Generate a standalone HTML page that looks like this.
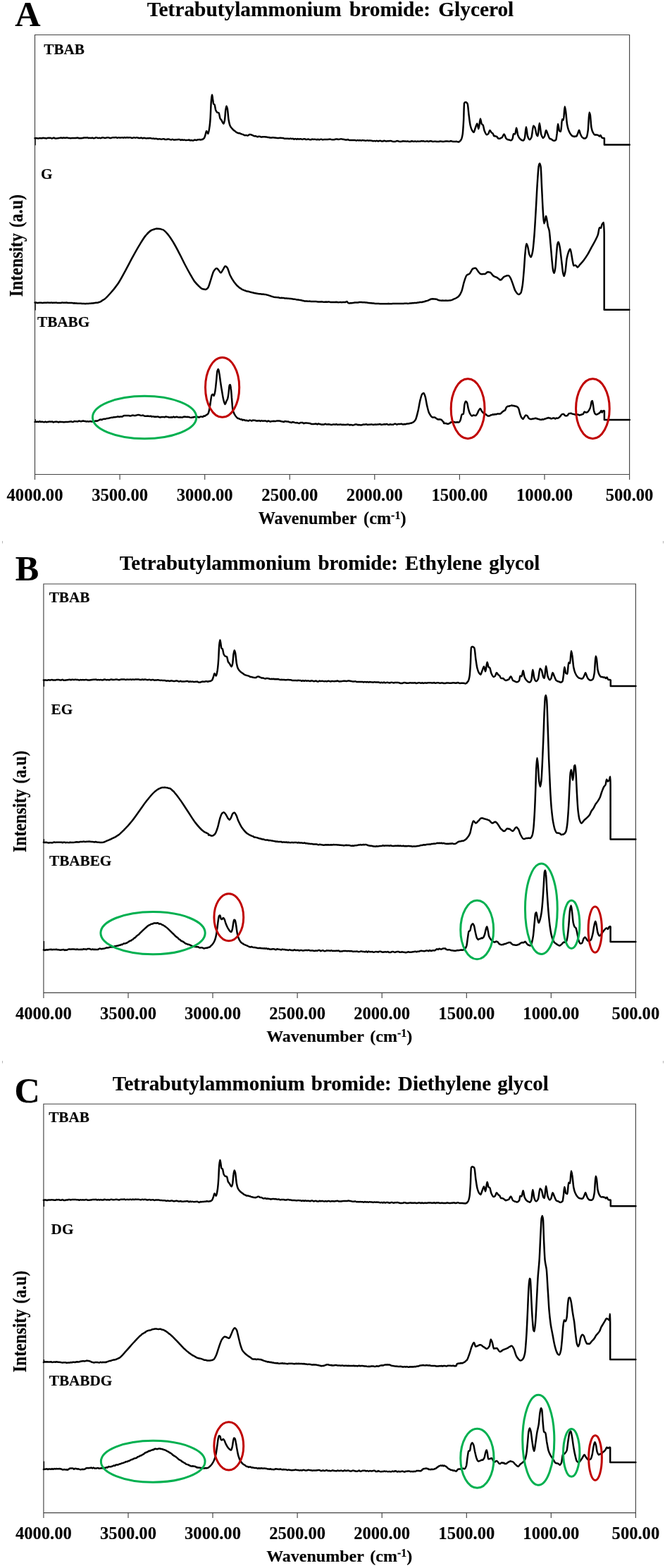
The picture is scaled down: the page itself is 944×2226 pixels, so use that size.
<!DOCTYPE html>
<html><head><meta charset="utf-8"><title>FTIR spectra</title>
<style>
html,body{margin:0;padding:0;background:#fff}
svg{display:block}
text{font-family:"Liberation Serif", serif;font-weight:bold;fill:#000;stroke:#000;stroke-width:0.15px}
.t{font-size:29.2px}
.k{font-size:24.6px}
.l{font-size:21.2px}
.a{font-size:24px}
.p{font-size:50.2px}
</style></head><body>
<svg width="944" height="2226" viewBox="0 0 944 2226">
<rect width="944" height="2226" fill="#fff"/>
<g id="panelA">
<path d="M49.5 681.0 V49.5 H893.6 V681.0" fill="none" stroke="#444" stroke-width="1.15"/>
<path d="M49.5 673.5 H893.6" fill="none" stroke="#444" stroke-width="1.15"/>
<path d="M170.1 673.5 v7.5M290.7 673.5 v7.5M411.3 673.5 v7.5M531.8 673.5 v7.5M652.4 673.5 v7.5M773.0 673.5 v7.5" stroke="#444" stroke-width="1.15" fill="none"/>
<text class="k" x="49.5" y="711.0" text-anchor="middle">4000.00</text>
<text class="k" x="170.1" y="711.0" text-anchor="middle">3500.00</text>
<text class="k" x="290.7" y="711.0" text-anchor="middle">3000.00</text>
<text class="k" x="411.3" y="711.0" text-anchor="middle">2500.00</text>
<text class="k" x="531.8" y="711.0" text-anchor="middle">2000.00</text>
<text class="k" x="652.4" y="711.0" text-anchor="middle">1500.00</text>
<text class="k" x="773.0" y="711.0" text-anchor="middle">1000.00</text>
<text class="k" x="893.6" y="711.0" text-anchor="middle">500.00</text>
<text class="t" x="469.0" y="22.9" text-anchor="middle" style="font-size:29.35px;word-spacing:3.8px">Tetrabutylammonium bromide: Glycerol</text>
<text class="p" x="21.2" y="37.3">A</text>
<text class="l" x="62.3" y="77">TBAB</text>
<text class="l" x="58" y="253.5">G</text>
<text class="l" x="53" y="463.7">TBABG</text>
<text class="a" transform="translate(31.6 348.6) rotate(-90) scale(0.9945 1.1)" text-anchor="middle" style="word-spacing:2px">Intensity (a.u)</text>
<text class="a" x="471.6" y="744.1" text-anchor="middle" style="font-size:24.2px;word-spacing:4px">Wavenumber (cm<tspan dy="-7" font-size="16">-1</tspan><tspan dy="7">)</tspan></text>
<path d="M50.05 206.3 V196.3" stroke="#000" stroke-width="1.3" fill="none"/><path d="M49.5 196.3 C50.0 196.2 50.5 196.1 51.0 196.1 C51.6 196.1 52.1 196.2 52.7 196.2 C53.3 196.3 53.8 196.6 54.4 196.6 C55.0 196.6 55.5 196.1 56.1 196.1 C56.7 196.1 57.2 196.1 57.8 196.2 C58.4 196.2 58.9 196.2 59.5 196.2 C60.1 196.2 60.6 195.8 61.2 195.8 C61.8 195.8 62.3 196.1 62.9 196.1 C63.5 196.2 64.0 196.2 64.6 196.2 C65.2 196.3 65.7 196.4 66.3 196.4 C66.9 196.4 67.4 195.7 68.0 195.7 C68.6 195.7 69.1 195.9 69.7 195.9 C70.3 195.9 70.8 195.7 71.4 195.7 C72.0 195.7 72.5 196.4 73.1 196.4 C73.7 196.4 74.2 196.3 74.8 196.2 C75.4 196.2 75.9 195.6 76.5 195.6 C77.1 195.6 77.6 196.5 78.2 196.5 C78.8 196.5 79.3 196.5 79.9 196.5 C80.5 196.5 81.0 196.2 81.6 196.2 C82.2 196.1 82.7 196.2 83.3 196.1 C83.9 196.1 84.4 195.7 85.0 195.7 C85.6 195.6 86.1 195.5 86.7 195.5 C87.3 195.5 87.8 196.0 88.4 196.0 C89.0 196.0 89.5 195.5 90.1 195.5 C90.7 195.5 91.2 195.6 91.8 195.7 C92.4 195.7 92.9 195.7 93.5 195.7 C94.1 195.7 94.6 195.5 95.2 195.5 C95.8 195.5 96.3 195.9 96.9 195.9 C97.5 195.9 98.0 195.9 98.6 195.9 C99.2 195.9 99.7 196.3 100.3 196.3 C100.9 196.3 101.4 195.9 102.0 195.9 C102.6 195.9 103.1 196.0 103.7 196.0 C104.3 196.0 104.8 195.9 105.4 195.9 C106.0 195.9 106.5 196.0 107.1 196.0 C107.7 196.0 108.2 195.9 108.8 195.8 C109.4 195.8 109.9 195.6 110.5 195.6 C111.1 195.6 111.6 196.3 112.2 196.3 C112.8 196.3 113.3 196.3 113.9 196.3 C114.5 196.3 115.0 196.2 115.6 196.2 C116.2 196.1 116.7 196.1 117.3 196.0 C117.9 196.0 118.4 195.7 119.0 195.6 C119.6 195.6 120.1 195.5 120.7 195.5 C121.3 195.5 121.8 195.6 122.4 195.6 C123.0 195.6 123.5 195.3 124.1 195.3 C124.7 195.3 125.2 196.0 125.8 196.0 C126.4 196.0 126.9 195.7 127.5 195.7 C128.1 195.7 128.6 196.1 129.2 196.1 C129.8 196.1 130.3 195.6 130.9 195.6 C131.5 195.6 132.0 196.2 132.6 196.2 C133.2 196.2 133.7 196.1 134.3 196.1 C134.9 196.0 135.4 195.2 136.0 195.2 C136.6 195.2 137.1 195.3 137.7 195.4 C138.3 195.5 138.8 196.1 139.4 196.1 C140.0 196.1 140.5 195.7 141.1 195.7 C141.7 195.7 142.2 196.2 142.8 196.2 C143.4 196.2 143.9 195.7 144.5 195.6 C145.1 195.4 145.6 195.2 146.2 195.2 C146.8 195.2 147.3 195.7 147.9 195.8 C148.5 195.9 149.0 195.9 149.6 195.9 C150.2 195.9 150.7 195.5 151.3 195.4 C151.9 195.3 152.4 195.2 153.0 195.2 C153.6 195.2 154.1 195.3 154.7 195.4 C155.3 195.6 155.8 196.1 156.4 196.1 C157.0 196.1 157.5 196.0 158.1 195.8 C158.7 195.7 159.2 195.2 159.8 195.2 C160.4 195.2 160.9 195.3 161.5 195.3 C162.1 195.3 162.6 195.2 163.2 195.2 C163.8 195.1 164.3 195.1 164.9 195.1 C165.5 195.1 166.0 195.8 166.6 195.8 C167.2 195.8 167.7 195.2 168.3 195.2 C168.9 195.2 169.4 195.6 170.0 195.6 C170.6 195.6 171.1 195.5 171.7 195.5 C172.3 195.4 172.8 195.2 173.4 195.2 C174.0 195.2 174.5 195.7 175.1 195.7 C175.7 195.7 176.2 195.1 176.8 195.1 C177.4 195.1 177.9 195.6 178.5 195.6 C179.1 195.6 179.6 195.1 180.2 195.1 C180.8 195.1 181.3 195.4 181.9 195.4 C182.5 195.4 183.0 195.2 183.6 195.2 C184.2 195.2 184.7 195.2 185.3 195.2 C185.9 195.2 186.4 195.9 187.0 195.9 C187.6 195.9 188.1 195.8 188.7 195.7 C189.3 195.6 189.8 195.2 190.4 195.2 C191.0 195.2 191.5 195.8 192.1 195.8 C192.7 195.8 193.2 195.2 193.8 195.2 C194.4 195.2 194.9 195.4 195.5 195.5 C196.1 195.6 196.6 196.0 197.2 196.0 C197.8 196.0 198.3 196.0 198.9 195.9 C199.5 195.8 200.0 195.5 200.6 195.5 C201.2 195.5 201.7 196.4 202.3 196.4 C202.9 196.4 203.4 195.8 204.0 195.8 C204.6 195.8 205.1 195.8 205.7 195.9 C206.3 196.0 206.8 196.5 207.4 196.5 C208.0 196.5 208.5 196.2 209.1 196.2 C209.7 196.2 210.2 196.2 210.8 196.2 C211.4 196.2 211.9 196.1 212.5 196.1 C213.1 196.1 213.6 196.1 214.2 196.2 C214.8 196.3 215.3 196.8 215.9 196.8 C216.5 196.8 217.0 196.5 217.6 196.5 C218.2 196.5 218.7 197.0 219.3 197.0 C219.9 197.0 220.4 196.8 221.0 196.8 C221.6 196.8 222.1 196.9 222.7 197.0 C223.3 197.1 223.8 197.6 224.4 197.6 C225.0 197.6 225.5 197.2 226.1 197.2 C226.7 197.2 227.2 197.3 227.8 197.4 C228.4 197.5 228.9 197.8 229.5 197.8 C230.1 197.8 230.6 197.2 231.2 197.2 C231.8 197.2 232.3 197.2 232.9 197.2 C233.5 197.3 234.0 198.1 234.6 198.1 C235.2 198.1 235.7 198.0 236.3 198.0 C236.9 198.0 237.4 197.5 238.0 197.5 C238.6 197.5 239.1 197.5 239.7 197.5 C240.3 197.5 240.8 198.0 241.4 198.1 C242.0 198.3 242.5 198.4 243.1 198.4 C243.7 198.4 244.2 197.7 244.8 197.7 C245.4 197.7 245.9 198.6 246.5 198.6 C247.1 198.6 247.6 198.5 248.2 198.5 C248.8 198.5 249.3 198.4 249.9 198.3 C250.5 198.3 251.0 198.3 251.6 198.2 C252.2 198.2 252.7 198.0 253.3 198.0 C253.9 198.0 254.4 198.0 255.0 198.0 C255.6 198.0 256.1 198.9 256.7 198.9 C257.3 198.9 257.8 198.3 258.4 198.3 C259.0 198.3 259.5 198.8 260.1 198.8 C260.7 198.8 261.2 198.4 261.8 198.4 C262.4 198.4 262.9 199.1 263.5 199.1 C264.1 199.1 264.6 199.0 265.2 198.9 C265.8 198.8 266.3 198.7 266.9 198.7 C267.5 198.6 268.0 198.6 268.6 198.6 C269.1 198.6 269.5 199.4 270.0 199.4 L271.5 199.0 L273.1 199.4 L274.6 199.4 L276.1 198.6 L277.6 198.8 L279.1 199.1 L280.6 198.2 L282.1 198.2 L283.6 198.1 L285.0 198.6 L286.5 197.9 L287.6 197.9 L288.6 197.1 L289.7 196.3 C290.3 195.7 291.0 193.1 291.6 191.2 C292.1 189.7 292.6 186.1 293.1 186.1 C293.9 186.1 294.7 189.9 295.4 189.9 C296.1 189.9 296.7 185.2 297.3 181.0 C297.8 178.3 298.2 174.0 298.6 168.3 C299.0 162.7 299.4 147.3 299.9 142.9 C300.3 138.9 300.6 134.6 301.0 134.6 C301.4 134.6 301.7 138.3 302.0 140.3 C302.4 142.4 302.7 146.8 303.1 147.3 C303.6 148.1 304.1 147.9 304.6 148.6 C305.1 149.4 305.7 154.9 306.2 156.2 C306.9 157.8 307.5 159.0 308.1 159.4 C309.0 160.0 309.8 159.8 310.7 160.4 C311.3 160.9 311.9 167.0 312.6 168.3 C313.2 169.6 313.9 169.9 314.5 170.8 C315.5 172.3 316.4 175.7 317.4 175.7 C317.9 175.7 318.4 173.4 318.9 170.8 C319.4 168.7 319.8 159.8 320.2 156.9 C320.6 153.9 321.1 150.5 321.5 150.5 C321.9 150.5 322.3 152.5 322.8 154.3 C323.4 157.1 324.0 167.4 324.7 170.8 C325.3 174.3 325.9 177.1 326.6 178.5 C327.6 180.8 328.7 181.8 329.8 182.9 L330.7 183.9 L331.7 184.7 L332.6 185.5 L333.6 186.1 L334.8 187.2 L336.1 188.1 L337.4 188.6 L338.6 189.2 L339.9 188.9 L341.2 189.7 L342.5 190.1 L343.7 190.6 L345.0 190.9 L346.3 191.6 L347.5 192.2 L348.8 192.1 L350.1 192.1 L351.4 192.5 L352.6 192.1 L353.9 191.0 L355.2 190.9 L356.4 191.2 L357.7 191.8 L359.0 192.2 L360.3 193.0 L361.5 193.2 L362.8 193.1 L364.1 193.7 L365.6 194.3 L367.1 193.8 L368.6 193.7 L370.2 194.4 L371.7 194.4 L373.1 194.2 L374.6 194.2 L376.0 194.2 L377.5 194.5 L379.0 194.6 L380.4 195.1 L381.9 195.0 L383.2 195.5 L384.6 195.5 L385.9 195.6 L387.3 195.1 L388.6 195.4 L390.0 195.6 C390.7 195.7 391.3 195.7 392.0 195.7 C392.6 195.7 393.1 195.9 393.7 196.0 C394.3 196.0 394.8 196.1 395.4 196.1 C396.0 196.1 396.5 195.7 397.1 195.7 C397.7 195.7 398.2 195.7 398.8 195.7 C399.4 195.7 399.9 196.1 400.5 196.1 C401.1 196.1 401.6 196.1 402.2 196.1 C402.8 196.1 403.3 196.8 403.9 196.8 C404.5 196.8 405.0 196.7 405.6 196.7 C406.2 196.7 406.7 196.7 407.3 196.8 C407.9 196.8 408.4 196.8 409.0 196.8 C409.6 196.8 410.1 197.0 410.7 197.0 C411.3 197.0 411.8 196.6 412.4 196.6 C413.0 196.6 413.5 197.0 414.1 197.0 C414.7 197.0 415.2 196.8 415.8 196.8 C416.4 196.8 416.9 197.7 417.5 197.7 C418.1 197.7 418.6 196.9 419.2 196.9 C419.8 196.9 420.3 197.7 420.9 197.7 C421.5 197.7 422.0 197.0 422.6 197.0 C423.2 197.0 423.7 197.6 424.3 197.6 C424.9 197.6 425.4 197.3 426.0 197.3 C426.6 197.3 427.1 197.4 427.7 197.4 C428.3 197.5 428.8 197.9 429.4 197.9 C430.0 197.9 430.5 197.2 431.1 197.2 C431.7 197.2 432.2 197.2 432.8 197.2 C433.4 197.3 433.9 198.1 434.5 198.1 C435.1 198.1 435.6 197.9 436.2 197.8 C436.8 197.6 437.3 197.4 437.9 197.4 C438.5 197.4 439.0 198.3 439.6 198.3 C440.2 198.3 440.7 198.3 441.3 198.3 C441.9 198.3 442.4 197.5 443.0 197.5 C443.6 197.5 444.1 197.9 444.7 197.9 C445.3 197.9 445.8 197.7 446.4 197.7 C447.0 197.7 447.5 197.8 448.1 197.9 C448.7 198.0 449.2 198.2 449.8 198.2 C450.4 198.2 450.9 197.8 451.5 197.8 C452.1 197.8 452.6 198.4 453.2 198.4 C453.8 198.4 454.3 197.7 454.9 197.7 C455.5 197.7 456.0 197.8 456.6 197.8 C457.2 197.9 457.7 198.4 458.3 198.4 C458.9 198.4 459.4 198.0 460.0 198.0 C460.6 198.0 461.1 198.0 461.7 198.0 C462.3 198.0 462.8 198.1 463.4 198.1 C464.0 198.1 464.5 198.0 465.1 197.9 C465.7 197.9 466.2 197.9 466.8 197.8 C467.4 197.8 467.9 197.4 468.5 197.4 C469.1 197.4 469.6 198.0 470.2 198.1 C470.8 198.2 471.3 198.3 471.9 198.3 C472.5 198.3 473.0 198.3 473.6 198.3 C474.2 198.3 474.7 198.1 475.3 197.9 C475.9 197.8 476.4 197.6 477.0 197.6 C477.6 197.6 478.1 197.6 478.7 197.6 C479.3 197.6 479.8 197.9 480.4 197.9 C481.0 197.9 481.5 197.8 482.1 197.8 C482.7 197.8 483.2 197.2 483.8 197.2 C484.4 197.2 484.9 197.4 485.5 197.5 C486.1 197.6 486.6 197.7 487.2 197.8 C487.8 197.9 488.3 198.0 488.9 198.1 C489.5 198.2 490.0 198.6 490.6 198.6 C491.2 198.6 491.7 198.5 492.3 198.4 C492.9 198.4 493.4 198.1 494.0 198.1 C494.6 198.1 495.1 199.1 495.7 199.1 C496.3 199.1 496.8 198.9 497.4 198.9 C498.0 198.9 498.5 199.1 499.1 199.1 C499.7 199.1 500.2 198.9 500.8 198.9 C501.4 198.9 501.9 199.1 502.5 199.1 C503.1 199.1 503.6 199.1 504.2 199.1 C504.8 199.1 505.3 199.6 505.9 199.6 C506.5 199.6 507.0 198.9 507.6 198.9 C508.2 198.9 508.7 199.4 509.3 199.4 C509.9 199.4 510.4 199.1 511.0 199.1 C511.6 199.1 512.1 199.6 512.7 199.6 C513.3 199.6 513.8 199.0 514.4 199.0 C515.0 199.0 515.5 199.3 516.1 199.3 C516.7 199.4 517.2 199.4 517.8 199.4 C518.4 199.5 518.9 199.8 519.5 199.8 C520.1 199.8 520.6 199.2 521.2 199.2 C521.8 199.2 522.3 199.7 522.9 199.7 C523.5 199.7 524.0 199.5 524.6 199.5 C525.2 199.5 525.7 199.5 526.3 199.6 C526.9 199.6 527.4 199.7 528.0 199.8 C528.6 199.9 529.1 200.3 529.7 200.3 C530.3 200.3 530.8 199.9 531.4 199.9 C532.0 199.9 532.5 200.4 533.1 200.4 C533.7 200.4 534.2 199.7 534.8 199.7 C535.4 199.7 535.9 200.5 536.5 200.5 C537.1 200.5 537.6 200.0 538.2 200.0 C538.8 199.9 539.3 199.8 539.9 199.8 C540.5 199.8 541.0 200.3 541.6 200.4 C542.2 200.5 542.7 200.6 543.3 200.6 C543.9 200.6 544.4 199.8 545.0 199.8 C545.6 199.8 546.1 200.0 546.7 200.1 C547.3 200.2 547.8 200.6 548.4 200.6 C549.0 200.6 549.5 200.3 550.1 200.2 C550.7 200.2 551.2 200.2 551.8 200.2 C552.4 200.1 552.9 200.0 553.5 200.0 C554.1 200.0 554.6 200.0 555.2 200.1 C555.8 200.1 556.3 200.5 556.9 200.7 C557.5 200.8 558.0 201.1 558.6 201.1 C559.2 201.1 559.7 201.1 560.3 201.1 C560.9 201.1 561.4 200.8 562.0 200.6 C562.6 200.4 563.1 200.1 563.7 200.1 C564.3 200.1 564.8 200.3 565.4 200.4 C566.0 200.5 566.5 200.9 567.1 200.9 C567.7 200.9 568.2 200.9 568.8 200.9 C569.4 200.9 569.9 200.8 570.5 200.7 C571.1 200.7 571.6 200.3 572.2 200.3 C572.8 200.3 573.3 200.6 573.9 200.6 C574.5 200.6 575.0 200.6 575.6 200.6 C576.2 200.6 576.7 200.7 577.3 200.7 C577.9 200.7 578.4 200.4 579.0 200.4 C579.6 200.4 580.1 201.1 580.7 201.1 C581.3 201.1 581.8 201.0 582.4 201.0 C583.0 201.0 583.5 200.3 584.1 200.3 C584.7 200.3 585.2 200.3 585.8 200.4 C586.4 200.5 586.9 201.0 587.5 201.0 C588.1 201.0 588.6 200.4 589.2 200.4 C589.8 200.4 590.3 201.0 590.9 201.0 C591.5 201.0 592.0 200.6 592.6 200.6 C593.2 200.6 593.7 200.8 594.3 200.8 C594.9 200.8 595.4 200.8 596.0 200.8 C596.6 200.8 597.1 200.3 597.7 200.3 C598.3 200.3 598.8 200.4 599.4 200.4 C600.0 200.4 600.5 200.3 601.1 200.3 C601.7 200.3 602.2 200.8 602.8 200.8 C603.4 200.8 603.9 200.8 604.5 200.8 C605.1 200.8 605.6 200.2 606.2 200.2 C606.8 200.2 607.3 201.0 607.9 201.0 C608.5 201.0 609.0 200.6 609.6 200.5 C610.2 200.4 610.7 200.3 611.3 200.3 C611.9 200.3 612.4 200.4 613.0 200.5 C613.6 200.6 614.1 201.1 614.7 201.1 C615.3 201.1 615.8 200.7 616.4 200.7 C617.0 200.7 617.5 200.7 618.1 200.7 C618.7 200.8 619.2 201.0 619.8 201.0 C620.4 201.0 620.9 201.1 621.5 201.1 C622.1 201.1 622.6 200.9 623.2 200.9 C623.8 200.8 624.3 200.5 624.9 200.5 C625.5 200.5 626.0 200.6 626.6 200.7 C627.2 200.8 627.7 201.0 628.3 201.0 C628.9 201.0 629.4 200.9 630.0 200.9 C630.6 200.8 631.1 200.8 631.7 200.7 C632.3 200.6 632.8 200.4 633.4 200.4 C634.0 200.4 634.5 200.5 635.1 200.5 C635.7 200.5 636.2 200.8 636.8 200.8 C637.4 200.8 637.9 200.8 638.5 200.7 C639.1 200.6 639.6 200.1 640.2 200.1 C640.8 200.1 641.3 200.7 641.9 200.8 C642.5 200.9 643.0 201.0 643.6 201.0 C644.1 201.0 644.5 200.9 645.0 200.9 L646.4 201.1 L647.8 200.8 L649.1 201.1 L650.5 201.6 L651.5 201.4 L652.6 200.7 L653.6 199.7 L654.6 198.2 C655.3 197.2 656.0 194.8 656.7 190.6 C657.2 187.8 657.6 179.7 658.1 171.3 C658.4 165.3 658.7 147.2 659.0 146.5 C659.6 145.4 660.2 144.9 660.8 144.9 L661.8 145.2 L662.7 146.0 L663.6 147.2 C664.3 148.3 665.0 159.3 665.7 164.4 C666.3 169.5 667.0 175.4 667.7 178.2 C668.4 181.1 669.1 183.2 669.8 184.4 C670.7 186.0 671.6 187.8 672.5 187.8 C673.2 187.8 673.9 184.1 674.6 182.3 C675.5 180.0 676.4 175.4 677.4 175.4 C678.0 175.4 678.7 183.0 679.4 183.0 C680.3 183.0 681.1 168.6 681.9 168.6 C682.5 168.6 683.2 175.3 683.8 176.1 C684.4 176.9 685.0 176.8 685.6 177.5 C686.3 178.4 687.0 184.1 687.7 185.8 C688.8 188.5 690.0 191.3 691.1 191.3 C691.8 191.3 692.5 190.6 693.2 189.9 C693.9 189.2 694.6 185.1 695.3 185.1 C696.2 185.1 697.1 187.9 698.0 188.5 C698.5 188.8 698.9 188.9 699.4 189.2 C700.1 189.7 700.8 193.2 701.5 193.3 L702.8 193.1 L704.2 193.6 L705.3 194.0 L706.3 195.5 L707.3 196.5 L708.4 196.8 L709.7 196.8 L711.1 195.9 L712.5 195.4 C713.5 194.8 714.5 190.6 715.5 190.6 C716.6 190.6 717.6 196.0 718.7 196.8 L719.9 197.8 L721.2 198.3 L722.4 198.5 L723.6 198.8 L724.9 199.3 L725.8 199.2 L726.7 198.3 L727.6 196.8 C728.1 196.0 728.5 189.9 729.0 189.9 C729.7 189.9 730.4 190.6 731.1 190.6 C731.8 190.6 732.5 181.6 733.1 181.6 C733.8 181.6 734.5 190.2 735.2 192.0 C736.3 194.9 737.5 196.6 738.6 197.5 L740.0 198.6 L741.4 199.3 L742.8 199.5 C743.5 199.5 744.2 198.0 744.8 196.1 C745.5 194.2 746.2 180.3 746.9 180.3 C747.6 180.3 748.3 191.4 749.0 193.3 C749.9 195.9 750.8 198.2 751.7 198.2 C752.6 198.2 753.6 196.6 754.5 194.7 C755.4 192.8 756.3 178.5 757.2 178.5 C757.9 178.5 758.6 179.7 759.3 180.9 C760.2 182.6 761.1 190.6 762.1 192.0 C762.5 192.7 763.0 193.3 763.4 193.3 C764.2 193.3 765.0 174.8 765.8 174.8 C766.6 174.8 767.4 188.1 768.2 190.6 C769.2 193.4 770.1 196.1 771.0 196.1 C771.7 196.1 772.4 194.7 773.1 193.3 C773.8 191.9 774.5 185.1 775.2 185.1 C776.0 185.1 776.8 188.8 777.6 190.6 C778.5 192.7 779.4 196.0 780.3 196.8 L781.5 197.2 L782.6 197.7 L783.8 198.4 L785.1 199.4 L786.5 199.8 L787.4 199.5 L788.4 199.3 L789.3 198.2 C789.7 197.6 790.2 192.8 790.7 189.2 C791.1 185.7 791.6 176.1 792.0 176.1 C792.7 176.1 793.4 185.2 794.1 185.8 C794.8 186.4 795.5 186.7 796.2 186.7 C796.8 186.7 797.4 169.2 798.0 169.2 C798.6 169.2 799.2 170.6 799.9 170.6 C800.5 170.6 801.1 151.3 801.7 151.3 C802.1 151.3 802.6 154.8 803.0 157.5 C803.7 161.6 804.4 173.0 805.1 176.8 C805.8 180.7 806.5 183.4 807.2 185.1 C808.6 188.5 809.9 190.9 811.3 192.0 L812.7 193.3 L814.1 193.5 L815.4 194.0 L816.8 193.5 L818.2 193.6 C818.9 193.4 819.6 190.8 820.3 189.2 C820.9 187.8 821.5 184.8 822.1 184.8 C822.7 184.8 823.3 189.1 824.0 190.6 C824.8 192.5 825.6 194.4 826.5 195.0 L827.6 195.6 L828.8 196.6 L829.9 196.5 L830.8 196.5 L831.7 195.8 L832.7 194.7 C833.3 193.9 834.0 190.0 834.7 185.1 C835.3 180.8 835.9 159.6 836.5 159.6 C836.9 159.6 837.3 161.3 837.8 163.1 C838.3 165.6 838.9 177.9 839.5 180.9 C840.2 184.4 840.9 186.5 841.6 187.8 C842.5 189.6 843.4 191.4 844.4 191.6 L845.6 191.3 L846.8 191.6 L848.0 191.6 L849.2 192.0 C849.8 192.1 850.4 193.6 851.0 193.6 C851.5 193.6 852.1 192.0 852.6 192.0 C853.2 192.0 853.7 195.2 854.3 195.4 L855.4 195.9 L856.5 196.0 L857.6 196.1 C857.7 196.1 857.8 196.3 857.9 196.4 L857.9 205.5 L893.7 205.5" fill="none" stroke="#000" stroke-width="2.5" stroke-linejoin="round" stroke-linecap="round"/>
<path d="M50.05 440.4 V429.6" stroke="#000" stroke-width="1.3" fill="none"/><path d="M49.5 429.6 C50.0 429.6 50.5 429.6 51.0 429.6 C51.6 429.6 52.1 429.9 52.7 429.9 C53.3 429.9 53.8 429.9 54.4 429.9 C55.0 429.9 55.5 429.8 56.1 429.8 C56.7 429.8 57.2 429.7 57.8 429.7 C58.4 429.7 58.9 429.9 59.5 429.9 C60.1 429.9 60.6 429.9 61.2 429.9 C61.8 429.9 62.3 429.8 62.9 429.8 C63.5 429.8 64.0 429.8 64.6 429.8 C65.2 429.8 65.7 429.7 66.3 429.7 C66.9 429.6 67.4 429.6 68.0 429.6 C68.6 429.6 69.1 429.7 69.7 429.7 C70.3 429.8 70.8 429.8 71.4 429.8 C72.0 429.8 72.5 429.6 73.1 429.6 C73.7 429.6 74.2 429.9 74.8 429.9 C75.4 429.9 75.9 429.7 76.5 429.7 C77.1 429.7 77.6 429.7 78.2 429.7 C78.8 429.7 79.3 429.6 79.9 429.6 C80.5 429.6 81.0 430.1 81.6 430.1 C82.2 430.1 82.7 429.9 83.3 429.9 C83.9 429.9 84.4 430.0 85.0 430.0 C85.6 430.0 86.1 429.9 86.7 429.9 C87.3 429.8 87.8 429.6 88.4 429.6 C89.0 429.6 89.5 429.7 90.1 429.7 C90.7 429.7 91.2 429.8 91.8 429.8 C92.2 429.8 92.6 429.8 93.0 429.8 L94.5 429.6 L96.1 429.9 L97.6 429.9 L99.2 430.1 L100.8 430.1 L102.3 430.0 L103.9 430.4 L105.4 430.3 L107.0 430.4 L108.5 430.5 L110.1 430.8 L111.7 430.8 L113.2 430.8 L114.8 430.8 L116.3 431.1 L117.9 431.0 L119.5 431.1 L121.0 431.2 L122.5 430.9 L124.1 430.9 L125.6 430.9 L127.2 430.8 L128.7 430.7 L130.3 430.5 L131.8 430.5 L133.4 430.2 L134.9 430.0 L136.4 429.8 L138.0 429.8 L139.3 429.5 L140.6 429.0 L142.0 428.6 L143.3 427.9 L144.6 427.1 L145.9 426.1 L147.3 425.3 L148.6 424.5 C151.2 422.7 153.9 419.5 156.5 416.5 C160.1 412.6 163.6 408.4 167.1 403.3 C170.7 398.1 174.2 391.1 177.7 384.8 C181.2 378.4 184.8 371.3 188.3 364.9 C191.8 358.5 195.4 352.0 198.9 346.4 C201.5 342.1 204.2 337.5 206.8 334.4 C209.5 331.4 212.1 328.2 214.8 327.0 L216.1 326.3 L217.4 326.0 L218.8 325.5 L220.1 325.1 L221.4 324.8 L222.7 324.6 L224.1 324.7 L225.4 324.7 L226.7 324.9 L228.0 325.1 L229.4 325.6 L230.7 325.9 C233.3 326.7 236.0 330.1 238.6 333.1 C241.3 336.1 243.9 340.6 246.6 345.0 C249.2 349.4 251.9 354.5 254.5 359.6 C257.2 364.7 259.8 370.4 262.5 375.5 C265.0 380.3 267.5 384.9 270.0 389.3 C272.0 392.8 274.0 396.7 276.0 399.4 C278.1 402.0 280.1 404.2 282.1 406.0 L283.3 407.1 L284.5 408.3 L285.7 409.3 L286.9 410.0 L288.1 410.4 L289.5 410.5 L290.8 410.9 L292.1 410.9 L293.1 410.4 L294.2 409.7 L295.2 408.4 C296.5 406.8 297.8 401.2 299.2 397.4 C300.5 393.5 301.9 387.5 303.2 385.3 C304.6 383.1 305.9 380.9 307.2 380.9 L308.2 381.2 L309.2 382.2 L310.2 383.3 C311.3 384.3 312.3 387.3 313.3 387.3 C314.3 387.3 315.3 384.7 316.3 383.3 C317.5 381.6 318.7 377.8 319.9 377.8 L320.9 378.3 L321.8 379.1 L322.7 380.2 C323.9 381.8 325.2 387.7 326.4 390.3 C328.4 394.6 330.4 397.7 332.4 400.4 C334.7 403.5 337.1 406.3 339.4 408.0 L340.6 408.9 L341.8 409.6 L343.0 410.5 L344.1 411.1 L345.3 411.5 L346.5 412.1 L347.9 412.5 L349.4 413.2 L350.8 413.5 L352.2 413.8 L353.7 414.1 L355.1 414.6 L356.6 414.9 L358.0 415.3 L359.4 415.5 L360.9 416.1 L362.3 416.3 L363.7 416.5 L365.2 416.8 L366.6 417.1 L368.0 417.2 L369.5 417.3 L370.9 417.5 L372.4 417.8 L373.8 417.6 L375.2 418.0 L376.7 418.1 L378.1 418.4 L379.5 418.8 L380.9 419.1 L382.3 419.6 L383.7 420.0 L385.1 420.6 L386.5 421.0 L387.9 421.4 L389.4 421.7 L390.8 421.9 L392.2 422.1 L393.7 422.2 L395.2 422.3 L396.6 422.7 L398.1 422.9 L399.5 422.8 L401.0 422.9 L402.5 422.9 L403.9 423.4 L405.4 423.5 L406.9 423.5 L408.3 423.8 L409.8 423.8 L411.3 424.0 L412.7 424.1 L414.2 424.3 L415.6 424.5 L417.1 424.7 L418.6 424.8 L420.0 425.1 L421.5 425.4 L423.0 425.5 L424.5 425.8 L426.1 425.9 L427.7 426.2 L429.2 426.8 L430.8 427.1 L432.4 427.4 L433.9 427.6 L435.5 427.6 L437.1 427.8 L438.5 427.7 L439.9 427.6 L441.4 428.0 L442.8 428.0 L444.2 428.0 L445.7 428.1 L447.1 428.0 L448.6 428.1 L450.0 428.2 L451.6 428.4 L453.2 428.4 L454.8 428.4 L456.4 428.3 L458.0 428.6 L459.6 428.7 L461.2 428.7 L462.8 428.5 L464.4 428.7 L466.0 428.6 L467.6 428.6 L469.2 429.0 L470.8 428.9 L472.4 429.0 L474.0 429.0 L475.6 428.9 L477.2 428.8 L478.8 428.9 L480.4 429.2 L482.0 429.1 L483.5 428.9 L485.1 429.2 L486.7 429.0 L488.3 429.0 L489.9 429.1 C490.8 429.1 491.6 427.9 492.4 427.9 C493.1 427.9 493.8 430.3 494.5 430.3 L496.1 430.4 L497.6 430.2 L499.1 430.2 L500.7 430.0 L502.2 429.8 L503.8 429.5 L505.3 429.6 L506.8 429.4 L508.4 429.4 L509.9 429.1 L511.4 429.1 L513.0 429.0 L514.5 429.2 L516.0 429.3 L517.6 429.2 L519.1 429.5 L520.7 429.5 L522.2 429.9 L523.7 430.1 L525.3 430.3 L526.8 430.3 L528.3 430.6 L529.9 430.5 L531.4 430.7 L532.9 431.1 L534.5 431.0 L536.0 431.1 L537.6 431.1 L539.1 431.2 L540.6 431.2 L542.2 431.2 L543.7 431.2 L545.2 431.2 L546.8 431.2 L548.3 431.2 L549.8 431.3 L551.4 431.1 L552.9 431.3 L554.4 431.2 L556.0 431.2 L557.5 431.1 L559.1 431.1 L560.6 430.9 L562.1 431.0 L563.7 430.9 L565.2 431.0 L566.7 431.0 L568.3 431.0 L569.8 431.0 L571.3 430.9 L572.9 430.9 L574.4 430.7 L576.0 430.8 L577.5 430.8 L579.0 430.9 L580.6 430.8 L582.1 430.5 L583.6 430.5 L585.2 430.3 L586.7 430.3 L588.2 430.1 L589.8 430.0 L591.3 429.9 L592.9 429.6 L594.4 429.4 L595.9 429.1 L597.5 429.1 L599.0 429.0 L600.5 428.5 L602.1 428.3 L603.6 427.8 L605.1 427.3 L606.7 426.9 L607.9 426.5 L609.1 425.7 L610.4 425.3 L611.6 424.6 L612.8 424.5 L614.4 424.3 L615.9 424.5 L617.4 424.5 L619.0 424.8 L620.5 425.1 L622.0 426.0 L623.6 426.4 L625.1 426.6 L626.6 426.7 L628.2 426.5 L629.7 426.8 L631.3 426.7 L632.8 426.5 L634.3 426.8 L635.9 426.7 L637.4 426.6 L638.7 426.4 L640.0 426.3 L641.3 425.9 L642.7 425.4 L644.0 424.7 L645.3 424.2 L646.6 423.6 L647.8 423.0 L648.9 422.3 L650.1 421.5 L651.2 420.5 C652.6 419.2 653.9 416.8 655.2 413.7 C656.4 410.8 657.7 403.6 658.9 399.9 C660.1 396.2 661.4 391.8 662.6 390.7 L663.9 389.8 L665.2 389.4 L666.6 388.5 C668.1 387.3 669.7 382.1 671.2 381.5 L672.4 381.0 L673.6 380.7 L674.9 380.6 C676.2 380.6 677.5 384.1 678.9 385.5 C680.2 386.9 681.5 389.1 682.9 389.1 L684.2 389.2 L685.5 389.0 L686.8 389.0 L688.1 389.1 L689.2 388.6 L690.4 387.5 L691.5 386.5 L692.7 386.1 L694.2 386.4 L695.8 386.7 C697.3 387.2 698.8 390.5 700.4 391.6 L701.6 392.4 L702.8 393.0 L704.1 393.4 L705.3 393.9 L706.5 394.7 L707.5 395.4 L708.5 396.3 L709.5 397.2 L710.5 397.4 L711.6 397.0 L712.6 396.0 L713.6 394.8 L714.7 393.6 L715.7 392.8 L717.3 392.2 L718.8 391.6 L720.3 391.3 L721.9 391.3 C722.9 391.3 723.9 393.5 725.0 395.3 C725.9 396.9 726.8 400.1 727.8 402.6 C729.0 405.9 730.3 410.8 731.5 412.8 C733.0 415.3 734.6 418.0 736.1 418.0 L737.2 417.7 L738.3 416.9 L739.5 415.6 C740.2 414.6 740.9 410.1 741.7 405.4 C742.3 401.4 742.9 394.1 743.5 386.8 C744.2 379.7 744.8 367.2 745.4 360.9 C746.0 354.6 746.6 346.1 747.2 346.1 C747.9 346.1 748.5 348.0 749.1 349.8 C749.8 351.9 750.6 358.9 751.3 360.9 C752.1 363.0 752.9 365.1 753.7 365.1 C754.5 365.1 755.3 361.2 756.1 357.2 C756.9 353.5 757.6 344.0 758.4 334.9 C759.1 325.9 759.9 312.1 760.6 299.7 C761.4 286.3 762.2 268.5 763.0 257.1 C763.6 248.3 764.2 237.0 764.9 234.8 C765.3 233.3 765.7 232.1 766.1 232.1 C766.6 232.1 767.1 234.0 767.6 236.7 C768.1 239.3 768.6 256.5 769.1 266.4 C769.7 278.7 770.4 295.0 771.0 303.4 C771.4 309.4 771.8 317.3 772.3 317.3 C772.8 317.3 773.3 314.5 773.8 312.7 C774.2 311.1 774.6 306.8 775.0 306.8 C775.5 306.8 776.0 310.2 776.5 312.7 C777.0 314.8 777.4 319.0 777.8 321.0 C778.5 323.9 779.1 324.3 779.7 327.5 C780.3 330.7 780.9 339.3 781.5 346.1 C782.2 352.8 782.8 362.1 783.4 368.3 C784.0 374.4 784.6 381.7 785.2 384.1 C785.7 385.9 786.2 387.8 786.7 387.8 C787.3 387.8 787.8 383.4 788.4 379.4 C788.9 375.9 789.4 366.4 789.9 360.9 C790.4 355.4 790.9 347.6 791.4 346.1 C791.8 344.7 792.2 343.6 792.7 343.6 C793.3 343.6 793.9 347.0 794.5 349.8 C795.3 353.4 796.1 361.9 796.9 368.3 C797.7 374.2 798.4 383.3 799.1 386.8 C799.6 389.2 800.1 392.0 800.6 392.0 C801.3 392.0 801.9 388.2 802.5 385.0 C803.2 381.2 804.0 370.3 804.7 366.4 C805.5 362.6 806.2 360.0 806.9 358.1 C807.7 356.1 808.5 353.5 809.4 353.5 C810.0 353.5 810.6 357.9 811.2 360.9 C811.8 363.9 812.4 369.3 813.1 372.0 C813.6 374.2 814.0 377.2 814.5 377.2 C815.3 377.2 816.0 376.6 816.8 376.6 L817.8 377.3 L818.9 378.6 L819.9 379.4 C821.0 379.4 822.1 377.0 823.2 375.7 C825.1 373.6 827.0 371.7 828.8 369.2 C830.7 366.8 832.5 364.0 834.4 360.9 C836.2 357.8 838.1 354.1 839.9 350.7 C841.8 347.3 843.6 344.3 845.5 340.5 C846.6 338.2 847.7 336.5 848.8 333.1 C849.6 330.8 850.3 322.9 851.1 322.9 C851.7 322.9 852.3 323.8 852.9 323.8 C853.5 323.8 854.1 319.3 854.8 318.2 C855.5 317.1 856.2 315.8 857.0 315.8 C857.2 315.8 857.5 326.1 857.7 331.2 L857.7 439.7 L893.3 439.7" fill="none" stroke="#000" stroke-width="2.5" stroke-linejoin="round" stroke-linecap="round"/>
<path d="M50.05 595.0 V599.0" stroke="#000" stroke-width="1.3" fill="none"/><path d="M49.5 599.0 C49.7 598.9 49.9 598.6 50.1 598.6 L51.6 598.9 L53.2 598.6 L54.8 599.1 L56.4 598.2 L58.0 599.1 L59.6 598.6 L61.2 599.0 L62.8 599.3 L64.4 598.6 L66.0 599.3 L67.5 599.0 L69.1 598.7 L70.7 598.4 L72.3 598.9 L73.9 598.4 L75.5 599.4 L77.1 599.1 L78.7 598.8 L80.3 598.6 L81.8 599.0 L83.4 599.5 L85.0 598.7 L86.6 599.1 L88.2 598.9 L89.8 599.3 L91.4 599.3 L93.0 599.1 L94.6 598.9 L96.1 598.9 L97.7 598.8 L99.3 598.6 L100.9 598.2 L102.5 599.0 L104.1 598.8 L105.7 597.9 L107.3 598.3 L108.9 598.3 L110.4 598.4 L112.0 597.6 L113.6 597.9 L115.2 598.2 L116.8 597.8 L118.3 597.5 L119.7 597.9 L121.2 598.0 L122.7 598.5 L124.2 598.1 L125.6 598.6 L127.1 598.2 L128.6 598.1 L130.0 598.6 L131.5 598.4 L132.9 598.1 L134.4 598.3 L135.8 597.4 L137.3 597.8 L138.7 597.3 L140.2 596.7 L141.6 595.8 L143.0 595.5 L144.5 596.0 L145.9 595.1 L147.5 594.7 L149.0 594.7 L150.6 594.4 L152.1 593.9 L153.7 593.9 L155.2 593.5 L156.7 593.1 L158.3 592.7 L159.8 592.7 L161.4 592.3 L162.9 592.3 L164.5 592.0 L166.0 591.8 L167.6 591.3 L169.1 591.9 L170.7 591.5 L172.2 591.5 L173.7 591.4 L175.3 590.2 L176.8 590.0 L178.4 590.1 L179.9 589.9 L181.5 590.0 L183.0 590.1 L184.5 590.4 L186.0 590.2 L187.5 589.8 L189.1 589.6 L190.6 590.0 L192.1 589.9 L193.6 589.6 L195.2 589.1 L196.8 589.1 L198.4 589.3 L200.0 589.9 L201.5 589.8 L203.1 589.6 L204.7 590.4 L206.3 590.7 L207.9 590.7 L209.5 590.6 L211.0 590.8 L212.5 591.1 L214.0 590.6 L215.5 591.6 L217.1 591.1 L218.6 591.7 L220.1 591.5 L221.6 591.9 L223.1 591.4 L224.6 591.6 L226.1 592.3 L227.7 592.5 L229.2 591.9 L230.7 592.0 L232.2 591.9 L233.8 592.3 L235.4 591.4 L236.9 591.8 L238.5 592.0 L240.1 592.6 L241.6 592.4 L243.2 592.3 L244.8 592.5 L246.3 591.6 L247.9 592.4 L249.5 592.1 L251.0 591.8 L252.6 592.2 L254.2 592.4 L255.7 592.3 L257.3 592.4 L258.9 592.6 L260.4 591.8 L262.0 591.6 L263.5 591.7 L265.1 592.0 L266.3 591.8 L267.6 591.9 L268.8 592.3 L270.0 592.6 L271.4 592.9 L272.8 592.5 L274.1 592.6 L275.5 591.8 L276.9 592.1 L278.3 592.2 L279.6 592.0 L281.0 591.8 L282.4 592.6 L283.8 591.8 L285.2 591.4 L286.5 591.6 L287.9 591.9 L289.3 590.5 L290.7 590.8 L292.0 589.8 L293.2 589.0 L294.3 588.4 L295.5 587.1 C296.2 586.1 296.9 582.8 297.5 579.5 C298.1 576.9 298.6 571.8 299.2 568.5 C299.6 565.7 300.1 561.6 300.6 560.9 C301.0 560.3 301.5 559.8 301.9 559.8 C302.5 559.8 303.1 561.9 303.7 561.9 C304.3 561.9 304.9 558.1 305.5 554.7 C306.1 551.6 306.6 544.7 307.2 539.6 C307.6 535.3 308.1 527.8 308.6 526.5 C309.0 525.2 309.5 524.1 309.9 524.1 C310.4 524.1 310.9 527.5 311.3 529.9 C311.9 532.9 312.4 538.5 313.0 542.3 C313.7 547.3 314.4 551.9 315.2 556.1 C315.9 560.6 316.7 565.8 317.5 568.5 C318.2 570.9 318.9 574.0 319.6 574.0 C320.1 574.0 320.7 571.1 321.2 569.9 C321.8 568.6 322.4 568.2 323.0 566.4 C323.5 565.1 323.9 562.0 324.4 558.9 C324.9 555.7 325.3 546.7 325.8 546.5 C326.1 546.3 326.5 546.2 326.9 546.2 C327.2 546.2 327.5 549.5 327.8 552.0 C328.2 554.8 328.6 560.1 328.9 564.4 C329.4 569.7 329.9 578.6 330.3 580.9 C331.1 584.8 331.9 586.3 332.7 587.8 C333.8 590.0 335.0 591.7 336.1 592.6 L337.5 593.9 L338.9 593.9 L340.2 594.9 L341.6 595.4 L343.0 595.2 L344.4 596.5 L345.7 595.9 L347.1 596.3 L348.5 597.1 L349.9 596.7 L351.4 597.2 L352.9 597.4 L354.4 596.5 L355.9 596.9 L357.4 597.5 L358.9 596.6 L360.4 596.7 L361.9 596.7 L363.4 597.4 L364.9 597.2 L366.4 597.4 L368.0 597.1 L369.6 597.9 L371.2 597.1 L372.8 597.7 L374.3 597.6 L375.9 597.6 L377.5 597.6 L379.1 598.5 L380.7 597.4 L382.3 598.0 L383.9 598.7 L385.5 598.1 L387.1 598.1 L388.5 597.7 L390.0 597.9 L391.6 597.9 L393.2 597.4 L394.8 597.4 L396.4 597.6 L397.9 597.8 L399.5 598.3 L401.1 598.4 L402.7 599.1 L404.3 598.0 L405.9 598.2 L407.5 598.5 L409.1 598.5 L410.7 599.2 L412.2 599.4 L413.8 600.0 L415.4 599.1 L417.0 599.4 L418.6 599.9 L420.2 600.2 L421.8 600.1 L423.4 600.7 L425.0 600.9 L426.5 600.0 L428.1 599.9 L429.7 600.1 L431.3 601.2 L432.9 600.5 L434.5 600.4 L436.1 600.6 L437.7 600.7 L439.3 600.9 L440.8 601.3 L442.4 602.1 L444.0 601.9 L445.6 602.0 L447.2 601.7 L448.8 601.6 L450.4 602.5 L452.0 601.4 L453.6 602.0 L455.1 602.3 L456.7 602.7 L458.3 602.4 L459.9 602.7 L461.5 601.7 L463.1 602.4 L464.7 602.5 L466.3 602.3 L467.9 602.4 L469.4 602.9 L471.0 603.0 L472.6 602.6 L474.2 602.5 L475.8 602.7 L477.4 602.2 L479.0 602.9 L480.6 602.8 L482.2 602.8 L483.7 602.4 L485.3 603.1 L486.9 602.7 L488.5 602.9 L490.1 602.9 L491.7 602.9 L493.3 602.5 L494.9 602.7 L496.5 603.5 L498.0 602.9 L499.6 603.4 L501.2 603.5 L502.8 603.1 L504.4 602.5 L506.0 602.4 L507.6 603.2 L509.2 603.1 L510.8 603.2 L512.4 603.4 L513.9 603.3 L515.5 602.5 L517.1 602.7 L518.7 602.4 L520.3 602.3 L521.9 603.1 L523.5 602.7 L525.1 602.7 L526.7 602.6 L528.2 602.6 L529.8 603.0 L531.4 602.7 L533.0 602.6 L534.6 602.7 L536.2 602.5 L537.8 602.4 L539.4 602.0 L541.0 602.9 L542.5 602.7 L544.1 602.5 L545.7 602.2 L547.3 602.5 L548.9 601.9 L550.5 602.7 L552.1 603.0 L553.7 602.3 L555.3 602.8 L556.8 602.7 L558.4 602.8 L560.0 601.8 L561.6 601.8 L563.2 602.8 L564.8 602.1 L566.4 602.1 L568.0 602.1 L569.6 601.6 L571.1 602.3 L572.7 602.5 L574.3 602.0 L575.7 602.3 L577.0 601.7 L578.4 601.6 L579.8 601.5 L581.1 601.3 L582.5 600.7 L583.9 600.7 L585.0 600.1 L586.1 599.7 L587.3 598.8 L588.4 597.8 L589.6 596.3 C590.9 594.6 592.1 588.7 593.4 583.6 C594.5 579.3 595.5 571.7 596.6 567.7 C597.4 564.4 598.3 560.7 599.1 559.7 C599.9 558.9 600.6 558.1 601.3 558.1 C602.1 558.1 602.8 560.7 603.6 562.9 C604.4 565.4 605.3 572.1 606.1 575.6 C607.2 580.0 608.2 584.8 609.3 586.7 C610.9 589.7 612.5 592.0 614.0 592.5 L615.4 592.5 L616.8 592.4 L618.2 593.1 L619.4 594.2 L620.7 594.9 L622.0 595.6 L623.6 595.3 L625.2 595.6 L626.4 595.8 L627.6 596.9 L628.7 598.3 L629.9 599.5 L630.0 600.9 L631.5 600.9 L633.0 601.0 L634.4 601.5 L635.9 601.9 L637.2 601.3 L638.5 600.8 L639.8 599.4 L641.1 599.4 L642.4 599.0 L643.7 599.1 L645.0 599.0 L646.3 599.7 L647.6 599.6 L648.9 599.2 L650.2 599.5 L651.5 599.4 C652.2 599.3 653.0 597.7 653.7 596.0 C654.3 594.6 654.9 589.1 655.5 588.6 C656.3 587.9 657.1 588.2 657.9 587.5 C658.4 587.1 658.9 576.5 659.4 574.5 C660.0 572.0 660.5 569.8 661.1 569.8 C661.7 569.8 662.3 570.6 662.9 571.5 C663.6 572.6 664.2 578.1 664.9 580.4 C665.6 583.1 666.3 585.8 667.1 587.1 C668.1 588.8 669.1 590.5 670.0 590.5 L671.5 589.6 L673.0 589.6 C673.8 589.6 674.5 590.1 675.2 590.1 C676.0 590.1 676.7 588.3 677.5 587.1 C678.2 585.9 678.9 583.7 679.7 582.6 C680.4 581.6 681.2 580.1 681.9 580.1 C682.5 580.1 683.1 582.6 683.7 583.4 C684.6 584.6 685.5 585.7 686.4 586.4 L687.6 587.1 L688.8 587.6 L690.1 588.6 L691.3 589.7 L692.5 590.5 L693.8 590.5 L695.3 590.2 L696.7 589.3 L698.2 589.0 L699.7 588.3 L701.2 588.7 L702.7 588.0 L704.1 588.3 L705.6 587.6 L707.1 587.5 L708.6 587.6 L710.1 587.5 C711.3 587.3 712.6 584.9 713.8 584.1 L714.8 583.7 L715.8 582.8 L716.8 582.6 C717.5 582.0 718.2 579.1 719.0 578.2 C719.6 577.5 720.2 576.9 720.8 576.7 L722.2 576.7 L723.6 576.2 L725.0 575.9 L726.5 575.5 L727.9 576.0 L729.4 576.0 L730.8 576.6 L732.3 576.7 L733.8 577.2 C734.6 577.4 735.3 578.4 736.0 579.7 C736.8 581.0 737.5 585.7 738.3 587.8 C739.0 590.0 739.7 591.9 740.5 593.0 C741.1 593.9 741.7 595.0 742.3 595.0 C742.9 595.0 743.6 593.1 744.2 592.3 C744.9 591.3 745.7 589.6 746.4 589.6 C747.1 589.6 747.7 589.8 748.4 590.1 C749.0 590.3 749.7 592.9 750.4 593.5 L751.8 594.6 L753.1 595.0 L754.6 594.9 L756.1 594.6 L757.5 594.4 L759.0 594.1 L760.5 593.8 L762.0 594.3 L763.5 594.8 L764.8 594.9 L766.1 595.6 L767.4 595.7 L768.7 595.8 L770.0 595.2 L771.1 595.5 L772.2 595.3 L773.4 594.5 L774.6 594.5 L775.9 593.8 L777.2 593.6 L778.5 593.0 L779.8 593.6 L781.1 593.6 L782.4 594.4 L783.7 594.1 L785.2 593.5 L786.7 593.4 L788.2 594.6 L789.7 593.5 L791.1 593.8 L792.4 593.5 L793.6 592.7 L794.9 591.5 C795.8 590.8 796.8 588.4 797.8 588.1 C798.6 588.0 799.3 587.8 800.0 587.8 C800.8 587.8 801.5 590.1 802.3 590.1 L803.8 590.4 L805.2 590.1 C806.0 590.1 806.7 587.3 807.5 587.1 L808.9 587.1 L810.4 586.6 L811.9 587.4 L813.4 587.8 L814.9 588.1 L816.4 588.7 L817.8 588.0 L819.3 588.6 L820.8 588.6 L822.3 589.5 L823.8 589.0 L825.0 588.9 L826.2 588.2 L827.5 588.1 C828.2 587.8 829.0 584.6 829.7 584.6 C830.4 584.6 831.2 585.6 831.9 585.6 C832.7 585.6 833.4 585.3 834.1 584.9 C834.9 584.5 835.6 583.2 836.4 581.9 C837.0 580.8 837.7 579.6 838.3 577.5 C838.8 575.9 839.3 570.4 839.8 569.8 C840.1 569.3 840.5 568.9 840.8 568.9 C841.2 568.9 841.5 572.4 841.9 574.5 C842.3 576.9 842.7 581.0 843.0 582.6 C843.5 584.7 844.0 586.5 844.5 587.1 C845.3 587.9 846.0 588.6 846.8 588.6 L847.7 588.2 L848.7 587.6 L849.7 587.1 C850.6 586.6 851.4 586.1 852.2 585.2 C852.6 584.7 853.0 583.1 853.4 583.1 C853.8 583.1 854.2 585.6 854.6 585.6 C855.0 585.6 855.3 583.5 855.7 583.4 C856.3 583.2 856.8 583.1 857.4 583.1 C857.6 583.1 857.7 583.3 857.9 583.4 L857.9 595.9 L893.8 595.9" fill="none" stroke="#000" stroke-width="2.5" stroke-linejoin="round" stroke-linecap="round"/>
<ellipse cx="205.1" cy="592.5" rx="73.7" ry="30.2" fill="none" stroke="#00b050" stroke-width="3"/>
<ellipse cx="315.6" cy="549.95" rx="24.1" ry="42.35" fill="none" stroke="#c00000" stroke-width="3"/>
<ellipse cx="664.1" cy="580.25" rx="23.9" ry="42.45" fill="none" stroke="#c00000" stroke-width="3"/>
<ellipse cx="841.4" cy="580.2" rx="23.85" ry="42.5" fill="none" stroke="#c00000" stroke-width="3"/>
</g>
<g id="panelB">
<path d="M61.9 1416.9 V829 H902.4 V1416.9" fill="none" stroke="#444" stroke-width="1.15"/>
<path d="M61.9 1409.4 H902.4" fill="none" stroke="#444" stroke-width="1.15"/>
<path d="M182.0 1409.4 v7.5M302.0 1409.4 v7.5M422.1 1409.4 v7.5M542.2 1409.4 v7.5M662.3 1409.4 v7.5M782.3 1409.4 v7.5" stroke="#444" stroke-width="1.15" fill="none"/>
<text class="k" x="61.9" y="1446.6" text-anchor="middle">4000.00</text>
<text class="k" x="182.0" y="1446.6" text-anchor="middle">3500.00</text>
<text class="k" x="302.0" y="1446.6" text-anchor="middle">3000.00</text>
<text class="k" x="422.1" y="1446.6" text-anchor="middle">2500.00</text>
<text class="k" x="542.2" y="1446.6" text-anchor="middle">2000.00</text>
<text class="k" x="662.3" y="1446.6" text-anchor="middle">1500.00</text>
<text class="k" x="782.3" y="1446.6" text-anchor="middle">1000.00</text>
<text class="k" x="902.4" y="1446.6" text-anchor="middle">500.00</text>
<text class="t" x="468.05" y="808.9" text-anchor="middle" style="font-size:28.87px;word-spacing:3.0px">Tetrabutylammonium bromide: Ethylene glycol</text>
<text class="p" x="21.8" y="824">B</text>
<text class="l" x="69.7" y="855.3">TBAB</text>
<text class="l" x="72.6" y="1014.2">EG</text>
<text class="l" x="70" y="1228.5">TBABEG</text>
<text class="a" transform="translate(37.0 1137.85) rotate(-90) scale(0.989 1.1)" text-anchor="middle" style="word-spacing:2px">Intensity (a.u)</text>
<text class="a" x="481.7" y="1479.0" text-anchor="middle" style="font-size:24px;word-spacing:2.9px">Wavenumber (cm<tspan dy="-7" font-size="16">-1</tspan><tspan dy="7">)</tspan></text>
<path d="M62.45 974.7 V965.5" stroke="#000" stroke-width="1.3" fill="none"/><path d="M61.9 965.5 C62.4 965.5 62.9 965.4 63.4 965.4 C64.0 965.4 64.5 965.4 65.1 965.4 C65.7 965.5 66.2 965.8 66.8 965.8 C67.3 965.8 67.9 965.3 68.5 965.3 C69.0 965.3 69.6 965.4 70.2 965.4 C70.7 965.4 71.3 965.4 71.9 965.4 C72.4 965.4 73.0 965.0 73.5 965.0 C74.1 965.0 74.7 965.3 75.2 965.4 C75.8 965.4 76.4 965.4 76.9 965.5 C77.5 965.5 78.1 965.6 78.6 965.6 C79.2 965.6 79.8 964.9 80.3 964.9 C80.9 964.9 81.4 965.1 82.0 965.1 C82.6 965.1 83.1 964.9 83.7 964.9 C84.3 964.9 84.8 965.6 85.4 965.6 C86.0 965.6 86.5 965.5 87.1 965.5 C87.7 965.4 88.2 964.8 88.8 964.8 C89.3 964.8 89.9 965.7 90.5 965.7 C91.0 965.7 91.6 965.7 92.2 965.7 C92.7 965.7 93.3 965.4 93.9 965.4 C94.4 965.4 95.0 965.4 95.6 965.3 C96.1 965.3 96.7 965.0 97.2 964.9 C97.8 964.8 98.4 964.8 98.9 964.8 C99.5 964.8 100.1 965.2 100.6 965.2 C101.2 965.2 101.8 964.8 102.3 964.8 C102.9 964.8 103.5 964.9 104.0 964.9 C104.6 964.9 105.1 964.9 105.7 964.9 C106.3 964.9 106.8 964.7 107.4 964.7 C108.0 964.7 108.5 965.1 109.1 965.1 C109.7 965.1 110.2 965.1 110.8 965.1 C111.4 965.1 111.9 965.5 112.5 965.5 C113.0 965.5 113.6 965.1 114.2 965.1 C114.7 965.1 115.3 965.2 115.9 965.2 C116.4 965.2 117.0 965.1 117.6 965.1 C118.1 965.1 118.7 965.3 119.2 965.3 C119.8 965.3 120.4 965.1 121.0 965.1 C121.5 965.0 122.1 964.9 122.6 964.9 C123.2 964.9 123.8 965.5 124.3 965.5 C124.9 965.5 125.5 965.5 126.0 965.5 C126.6 965.5 127.2 965.4 127.7 965.4 C128.3 965.3 128.8 965.3 129.4 965.2 C130.0 965.2 130.5 964.9 131.1 964.9 C131.7 964.8 132.2 964.8 132.8 964.8 C133.4 964.8 133.9 964.8 134.5 964.8 C135.1 964.8 135.6 964.6 136.2 964.6 C136.7 964.6 137.3 965.3 137.9 965.3 C138.4 965.3 139.0 964.9 139.6 964.9 C140.1 964.9 140.7 965.3 141.3 965.3 C141.8 965.3 142.4 964.9 142.9 964.9 C143.5 964.9 144.1 965.4 144.7 965.4 C145.2 965.4 145.8 965.4 146.3 965.3 C146.9 965.2 147.5 964.5 148.0 964.5 C148.6 964.5 149.2 964.6 149.7 964.7 C150.3 964.8 150.9 965.3 151.4 965.3 C152.0 965.3 152.5 964.9 153.1 964.9 C153.7 964.9 154.2 965.4 154.8 965.4 C155.4 965.4 155.9 965.0 156.5 964.8 C157.1 964.7 157.6 964.5 158.2 964.5 C158.8 964.5 159.3 965.0 159.9 965.0 C160.4 965.1 161.0 965.1 161.6 965.1 C162.1 965.1 162.7 964.8 163.3 964.7 C163.8 964.6 164.4 964.5 165.0 964.5 C165.5 964.5 166.1 964.6 166.7 964.7 C167.2 964.8 167.8 965.3 168.3 965.3 C168.9 965.3 169.5 965.2 170.0 965.1 C170.6 965.0 171.2 964.5 171.7 964.5 C172.3 964.5 172.9 964.6 173.4 964.6 C174.0 964.6 174.6 964.5 175.1 964.5 C175.7 964.4 176.2 964.4 176.8 964.4 C177.4 964.4 177.9 965.1 178.5 965.1 C179.1 965.1 179.6 964.5 180.2 964.5 C180.8 964.5 181.3 964.8 181.9 964.8 C182.5 964.8 183.0 964.8 183.6 964.7 C184.1 964.7 184.7 964.5 185.3 964.5 C185.8 964.5 186.4 965.0 187.0 965.0 C187.5 965.0 188.1 964.4 188.7 964.4 C189.2 964.4 189.8 964.9 190.3 964.9 C190.9 964.9 191.5 964.4 192.0 964.4 C192.6 964.4 193.2 964.6 193.7 964.6 C194.3 964.6 194.9 964.5 195.4 964.5 C196.0 964.5 196.6 964.5 197.1 964.5 C197.7 964.5 198.2 965.1 198.8 965.1 C199.4 965.1 199.9 965.1 200.5 965.0 C201.1 964.9 201.6 964.5 202.2 964.5 C202.8 964.5 203.3 965.0 203.9 965.0 C204.5 965.0 205.0 964.5 205.6 964.5 C206.1 964.5 206.7 964.6 207.3 964.7 C207.8 964.9 208.4 965.2 209.0 965.2 C209.5 965.2 210.1 965.2 210.7 965.1 C211.2 965.1 211.8 964.7 212.4 964.7 C212.9 964.7 213.5 965.6 214.1 965.6 C214.6 965.6 215.2 965.0 215.7 965.0 C216.3 965.0 216.9 965.1 217.4 965.1 C218.0 965.2 218.6 965.7 219.1 965.7 C219.7 965.7 220.3 965.4 220.8 965.4 C221.4 965.4 221.9 965.4 222.5 965.4 C223.1 965.4 223.6 965.3 224.2 965.3 C224.8 965.3 225.3 965.3 225.9 965.4 C226.5 965.4 227.0 965.9 227.6 965.9 C228.2 965.9 228.7 965.7 229.3 965.7 C229.8 965.7 230.4 966.1 231.0 966.1 C231.5 966.1 232.1 966.0 232.7 966.0 C233.2 966.0 233.8 966.1 234.4 966.1 C234.9 966.2 235.5 966.7 236.1 966.7 C236.6 966.7 237.2 966.4 237.8 966.4 C238.3 966.4 238.9 966.4 239.4 966.5 C240.0 966.6 240.6 966.9 241.1 966.9 C241.7 966.9 242.3 966.3 242.8 966.3 C243.4 966.3 244.0 966.3 244.5 966.4 C245.1 966.4 245.6 967.1 246.2 967.1 C246.8 967.1 247.3 967.1 247.9 967.1 C248.5 967.1 249.0 966.6 249.6 966.6 C250.2 966.6 250.7 966.6 251.3 966.6 C251.9 966.6 252.4 967.1 253.0 967.2 C253.5 967.3 254.1 967.4 254.7 967.4 C255.2 967.4 255.8 966.8 256.4 966.8 C256.9 966.8 257.5 967.6 258.1 967.6 C258.6 967.6 259.2 967.6 259.8 967.6 C260.3 967.6 260.9 967.4 261.4 967.4 C262.0 967.3 262.6 967.3 263.1 967.3 C263.7 967.2 264.3 967.0 264.8 967.0 C265.4 967.0 266.0 967.0 266.5 967.0 C267.1 967.0 267.7 968.0 268.2 968.0 C268.8 968.0 269.3 967.3 269.9 967.3 C270.5 967.3 271.0 967.8 271.6 967.8 C272.2 967.8 272.7 967.5 273.3 967.5 C273.9 967.5 274.4 968.1 275.0 968.1 C275.6 968.1 276.1 968.0 276.7 967.9 C277.2 967.9 277.8 967.7 278.4 967.7 C278.9 967.7 279.5 967.6 280.1 967.6 C280.5 967.6 281.0 968.4 281.5 968.4 L283.0 968.8 L284.5 968.6 L286.0 967.9 L287.5 967.6 L289.1 967.8 L290.5 967.7 L292.0 967.3 L293.5 967.3 L295.0 967.8 L296.4 967.3 L297.9 967.0 L299.0 966.9 L300.0 966.3 L301.1 965.5 C301.7 964.9 302.3 962.5 303.0 960.8 C303.5 959.4 304.0 956.1 304.5 956.1 C305.3 956.1 306.0 959.6 306.8 959.6 C307.4 959.6 308.0 955.2 308.7 951.4 C309.1 948.8 309.5 944.9 309.9 939.6 C310.4 934.4 310.8 920.3 311.2 916.1 C311.6 912.4 312.0 908.5 312.3 908.5 C312.7 908.5 313.0 911.8 313.4 913.8 C313.7 915.7 314.0 919.8 314.4 920.2 C314.9 921.0 315.4 920.8 315.9 921.4 C316.4 922.1 317.0 927.2 317.5 928.5 C318.2 929.9 318.8 931.0 319.4 931.4 C320.3 931.9 321.1 931.8 322.0 932.4 C322.6 932.8 323.2 938.4 323.9 939.6 C324.5 940.8 325.1 941.1 325.8 942.0 C326.7 943.3 327.7 946.4 328.7 946.4 C329.2 946.4 329.7 944.3 330.2 942.0 C330.6 940.0 331.0 931.8 331.5 929.1 C331.9 926.4 332.3 923.2 332.7 923.2 C333.1 923.2 333.6 925.0 334.0 926.7 C334.6 929.2 335.3 938.8 335.9 942.0 C336.5 945.2 337.2 947.8 337.8 949.0 C338.8 951.1 339.9 952.1 340.9 953.1 L341.9 954.0 L342.9 954.8 L343.8 955.4 L344.8 956.1 L346.0 957.0 L347.3 957.9 L348.6 958.4 L349.8 958.7 L351.1 959.1 L352.3 959.4 L353.6 959.9 L354.9 960.7 L356.1 961.1 L357.4 961.1 L358.7 961.6 L359.9 961.8 L361.2 961.9 L362.5 962.0 L363.7 961.9 L365.0 960.7 L366.3 960.5 L367.5 960.6 L368.8 961.4 L370.1 961.7 L371.3 962.5 L372.6 962.6 L373.9 962.6 L375.1 963.1 L376.6 963.5 L378.2 963.0 L379.7 963.1 L381.2 963.2 L382.7 963.7 L384.2 964.0 L385.6 963.8 L387.1 963.9 L388.5 963.7 L390.0 964.2 L391.4 964.0 L392.9 964.3 L394.2 964.0 L395.6 964.3 L396.9 964.8 L398.2 965.1 L399.6 964.8 L400.9 964.9 C401.6 964.9 402.3 964.9 402.9 964.9 C403.5 965.0 404.1 965.2 404.6 965.2 C405.2 965.3 405.8 965.3 406.3 965.3 C406.9 965.3 407.5 964.9 408.0 964.9 C408.6 964.9 409.1 964.9 409.7 964.9 C410.3 964.9 410.8 965.3 411.4 965.3 C412.0 965.3 412.5 965.3 413.1 965.3 C413.7 965.3 414.2 965.9 414.8 965.9 C415.4 965.9 415.9 965.9 416.5 965.9 C417.0 965.9 417.6 965.9 418.2 965.9 C418.7 965.9 419.3 965.9 419.9 966.0 C420.4 966.0 421.0 966.2 421.6 966.2 C422.1 966.2 422.7 965.8 423.2 965.8 C423.8 965.8 424.4 966.1 424.9 966.1 C425.5 966.1 426.1 966.0 426.6 966.0 C427.2 966.0 427.8 966.8 428.3 966.8 C428.9 966.8 429.5 966.0 430.0 966.0 C430.6 966.0 431.2 966.8 431.7 966.8 C432.3 966.8 432.8 966.1 433.4 966.1 C434.0 966.1 434.5 966.7 435.1 966.7 C435.7 966.7 436.2 966.5 436.8 966.5 C437.4 966.5 437.9 966.5 438.5 966.6 C439.1 966.6 439.6 967.0 440.2 967.0 C440.7 967.0 441.3 966.3 441.9 966.3 C442.4 966.3 443.0 966.3 443.6 966.4 C444.1 966.4 444.7 967.2 445.3 967.2 C445.8 967.2 446.4 967.0 446.9 966.9 C447.5 966.7 448.1 966.5 448.6 966.5 C449.2 966.5 449.8 967.4 450.3 967.4 C450.9 967.4 451.5 967.4 452.0 967.4 C452.6 967.4 453.2 966.6 453.7 966.6 C454.3 966.6 454.8 967.0 455.4 967.0 C456.0 967.0 456.5 966.7 457.1 966.7 C457.7 966.7 458.2 966.9 458.8 967.0 C459.4 967.0 459.9 967.3 460.5 967.3 C461.1 967.3 461.6 966.9 462.2 966.9 C462.8 966.9 463.3 967.4 463.9 967.4 C464.4 967.4 465.0 966.8 465.6 966.8 C466.1 966.8 466.7 966.9 467.3 966.9 C467.8 966.9 468.4 967.5 469.0 967.5 C469.5 967.5 470.1 967.1 470.6 967.0 C471.2 967.0 471.8 967.0 472.3 967.0 C472.9 967.0 473.5 967.2 474.0 967.2 C474.6 967.2 475.2 967.1 475.7 967.0 C476.3 967.0 476.9 967.0 477.4 966.9 C478.0 966.8 478.5 966.5 479.1 966.5 C479.7 966.5 480.2 967.1 480.8 967.2 C481.4 967.3 481.9 967.4 482.5 967.4 C483.1 967.4 483.6 967.3 484.2 967.3 C484.8 967.3 485.3 967.1 485.9 967.0 C486.4 966.9 487.0 966.7 487.6 966.7 C488.1 966.7 488.7 966.7 489.3 966.7 C489.8 966.7 490.4 966.9 491.0 966.9 C491.5 966.9 492.1 966.9 492.7 966.9 C493.2 966.9 493.8 966.4 494.4 966.4 C494.9 966.4 495.5 966.5 496.0 966.6 C496.6 966.7 497.2 966.8 497.7 966.9 C498.3 967.0 498.9 967.0 499.4 967.2 C500.0 967.3 500.6 967.6 501.1 967.6 C501.7 967.6 502.2 967.5 502.8 967.5 C503.4 967.4 503.9 967.2 504.5 967.2 C505.1 967.2 505.6 968.1 506.2 968.1 C506.8 968.1 507.3 967.9 507.9 967.9 C508.5 967.9 509.0 968.1 509.6 968.1 C510.1 968.1 510.7 967.9 511.3 967.9 C511.8 967.9 512.4 968.1 513.0 968.1 C513.5 968.1 514.1 968.1 514.7 968.1 C515.2 968.1 515.8 968.5 516.4 968.5 C516.9 968.5 517.5 967.9 518.0 967.9 C518.6 967.9 519.2 968.4 519.7 968.4 C520.3 968.4 520.9 968.1 521.4 968.1 C522.0 968.1 522.6 968.6 523.1 968.6 C523.7 968.6 524.3 968.0 524.8 968.0 C525.4 968.0 525.9 968.2 526.5 968.3 C527.1 968.3 527.6 968.3 528.2 968.4 C528.8 968.4 529.3 968.7 529.9 968.7 C530.5 968.7 531.0 968.2 531.6 968.2 C532.2 968.2 532.7 968.6 533.3 968.6 C533.8 968.6 534.4 968.4 535.0 968.4 C535.5 968.4 536.1 968.5 536.7 968.5 C537.2 968.6 537.8 968.6 538.4 968.8 C538.9 968.9 539.5 969.2 540.0 969.2 C540.6 969.2 541.2 968.8 541.7 968.8 C542.3 968.8 542.9 969.3 543.4 969.3 C544.0 969.3 544.6 968.6 545.1 968.6 C545.7 968.6 546.3 969.4 546.8 969.4 C547.4 969.4 548.0 968.9 548.5 968.9 C549.1 968.8 549.6 968.8 550.2 968.8 C550.8 968.8 551.3 969.2 551.9 969.3 C552.5 969.4 553.0 969.5 553.6 969.5 C554.2 969.5 554.7 968.7 555.3 968.7 C555.9 968.7 556.4 968.9 557.0 969.0 C557.5 969.1 558.1 969.5 558.7 969.5 C559.2 969.5 559.8 969.2 560.4 969.1 C560.9 969.1 561.5 969.1 562.1 969.1 C562.6 969.1 563.2 968.9 563.8 968.9 C564.3 968.9 564.9 968.9 565.4 969.0 C566.0 969.0 566.6 969.4 567.1 969.6 C567.7 969.7 568.3 969.9 568.8 969.9 C569.4 969.9 570.0 969.9 570.5 969.9 C571.1 969.9 571.6 969.6 572.2 969.5 C572.8 969.3 573.3 969.0 573.9 969.0 C574.5 969.0 575.0 969.2 575.6 969.3 C576.2 969.4 576.7 969.7 577.3 969.7 C577.9 969.8 578.4 969.8 579.0 969.8 C579.6 969.8 580.1 969.7 580.7 969.6 C581.2 969.5 581.8 969.2 582.4 969.2 C582.9 969.2 583.5 969.5 584.1 969.5 C584.6 969.5 585.2 969.5 585.8 969.5 C586.3 969.5 586.9 969.6 587.5 969.6 C588.0 969.6 588.6 969.2 589.1 969.2 C589.7 969.2 590.3 969.9 590.8 969.9 C591.4 969.9 592.0 969.9 592.5 969.8 C593.1 969.8 593.7 969.2 594.2 969.2 C594.8 969.2 595.3 969.2 595.9 969.3 C596.5 969.3 597.0 969.8 597.6 969.8 C598.2 969.8 598.7 969.3 599.3 969.3 C599.9 969.3 600.4 969.9 601.0 969.9 C601.6 969.9 602.1 969.5 602.7 969.5 C603.2 969.5 603.8 969.6 604.4 969.6 C604.9 969.7 605.5 969.7 606.1 969.7 C606.6 969.7 607.2 969.2 607.8 969.2 C608.3 969.2 608.9 969.3 609.5 969.3 C610.0 969.3 610.6 969.2 611.1 969.2 C611.7 969.2 612.3 969.6 612.8 969.6 C613.4 969.6 614.0 969.6 614.5 969.6 C615.1 969.6 615.7 969.1 616.2 969.1 C616.8 969.1 617.4 969.8 617.9 969.8 C618.5 969.8 619.0 969.5 619.6 969.4 C620.2 969.3 620.7 969.2 621.3 969.2 C621.9 969.2 622.4 969.3 623.0 969.4 C623.6 969.5 624.1 969.9 624.7 969.9 C625.3 969.9 625.8 969.5 626.4 969.5 C626.9 969.5 627.5 969.6 628.1 969.6 C628.6 969.6 629.2 969.8 629.8 969.9 C630.3 969.9 630.9 969.9 631.5 969.9 C632.0 969.9 632.6 969.8 633.1 969.7 C633.7 969.6 634.3 969.4 634.9 969.4 C635.4 969.4 636.0 969.5 636.5 969.5 C637.1 969.6 637.7 969.8 638.2 969.8 C638.8 969.8 639.4 969.8 639.9 969.7 C640.5 969.7 641.1 969.6 641.6 969.5 C642.2 969.5 642.7 969.3 643.3 969.3 C643.9 969.3 644.4 969.3 645.0 969.4 C645.6 969.4 646.1 969.7 646.7 969.7 C647.3 969.7 647.8 969.6 648.4 969.5 C649.0 969.4 649.5 969.0 650.1 969.0 C650.6 969.0 651.2 969.6 651.8 969.7 C652.3 969.8 652.9 969.9 653.5 969.9 C653.9 969.9 654.4 969.8 654.9 969.8 L656.2 969.8 L657.6 969.8 L659.0 969.9 L660.4 970.4 L661.4 970.2 L662.4 969.7 L663.4 968.4 L664.5 967.2 C665.1 966.3 665.8 964.1 666.5 960.2 C667.0 957.7 667.4 950.2 667.9 942.4 C668.2 936.9 668.5 920.1 668.9 919.5 C669.4 918.4 670.0 918.0 670.6 918.0 L671.5 918.4 L672.5 918.9 L673.4 920.1 C674.1 921.2 674.7 931.3 675.4 936.0 C676.1 940.8 676.8 946.1 677.5 948.8 C678.2 951.4 678.9 953.4 679.5 954.5 C680.5 956.0 681.4 957.7 682.3 957.7 C683.0 957.7 683.7 954.2 684.3 952.6 C685.3 950.4 686.2 946.2 687.1 946.2 C687.8 946.2 688.5 953.2 689.1 953.2 C690.0 953.2 690.8 939.9 691.6 939.9 C692.2 939.9 692.9 946.1 693.5 946.9 C694.1 947.6 694.7 947.4 695.3 948.1 C696.0 948.9 696.7 954.3 697.4 955.8 C698.5 958.3 699.7 960.9 700.8 960.9 C701.5 960.9 702.2 960.2 702.9 959.6 C703.5 958.9 704.2 955.1 704.9 955.1 C705.8 955.1 706.7 957.7 707.6 958.3 C708.1 958.6 708.6 958.6 709.0 959.0 C709.7 959.4 710.4 962.6 711.1 962.8 L712.5 963.1 L713.8 963.0 L714.9 963.5 L715.9 964.7 L716.9 965.5 L717.9 966.0 L719.3 965.8 L720.7 965.0 L722.0 964.7 C723.1 964.1 724.1 960.2 725.1 960.2 C726.1 960.2 727.2 965.3 728.2 966.0 L729.5 966.6 L730.7 967.2 L731.9 967.9 L733.2 968.2 L734.4 968.2 L735.3 967.8 L736.2 967.2 L737.1 966.0 C737.6 965.2 738.0 959.6 738.5 959.6 C739.2 959.6 739.9 960.2 740.6 960.2 C741.2 960.2 741.9 952.0 742.6 952.0 C743.3 952.0 744.0 959.9 744.7 961.5 C745.8 964.2 747.0 965.8 748.1 966.6 L749.5 967.8 L750.8 968.5 L752.2 968.5 C752.9 968.5 753.6 967.1 754.3 965.3 C755.0 963.6 755.6 950.7 756.3 950.7 C757.0 950.7 757.7 961.0 758.4 962.8 C759.3 965.2 760.2 967.2 761.1 967.2 C762.0 967.2 763.0 965.8 763.9 964.0 C764.8 962.3 765.7 949.0 766.6 949.0 C767.3 949.0 768.0 950.2 768.7 951.3 C769.6 952.9 770.5 960.2 771.4 961.5 C771.9 962.1 772.3 962.8 772.8 962.8 C773.6 962.8 774.3 945.6 775.1 945.6 C775.9 945.6 776.8 957.9 777.6 960.2 C778.5 962.8 779.4 965.3 780.3 965.3 C781.0 965.3 781.7 964.0 782.4 962.8 C783.1 961.5 783.8 955.1 784.5 955.1 C785.3 955.1 786.1 958.6 786.9 960.2 C787.8 962.2 788.7 965.3 789.6 966.0 L790.8 966.7 L791.9 967.3 L793.0 967.5 L794.4 968.1 L795.8 968.8 L797.2 968.3 L798.5 967.2 C799.0 966.7 799.4 962.2 799.9 959.0 C800.4 955.7 800.8 946.9 801.3 946.9 C802.0 946.9 802.6 955.2 803.3 955.8 C804.0 956.3 804.7 956.7 805.4 956.7 C806.0 956.7 806.6 940.5 807.2 940.5 C807.8 940.5 808.4 941.8 809.1 941.8 C809.7 941.8 810.3 924.0 810.9 924.0 C811.3 924.0 811.8 927.2 812.2 929.7 C812.9 933.5 813.6 943.9 814.3 947.5 C815.0 951.1 815.7 953.6 816.4 955.1 C817.7 958.3 819.1 960.5 820.5 961.5 L821.8 962.5 L823.2 962.9 L824.6 963.4 L826.0 963.6 L827.3 963.0 C828.0 962.8 828.7 960.4 829.4 959.0 C830.0 957.7 830.6 954.9 831.2 954.9 C831.8 954.9 832.4 958.9 833.1 960.2 C833.9 962.0 834.7 963.7 835.5 964.3 L836.7 965.1 L837.8 965.8 L839.0 965.7 L839.9 965.3 L840.8 964.8 L841.7 964.0 C842.4 963.3 843.1 959.7 843.8 955.1 C844.4 951.2 845.0 931.6 845.6 931.6 C846.0 931.6 846.4 933.2 846.8 934.8 C847.4 937.1 848.0 948.5 848.6 951.3 C849.3 954.5 849.9 956.4 850.6 957.7 C851.5 959.3 852.5 961.0 853.4 961.1 L854.6 961.0 L855.8 961.3 L857.0 961.7 L858.2 961.5 C858.8 961.6 859.4 963.0 860.0 963.0 C860.5 963.0 861.1 961.5 861.6 961.5 C862.1 961.5 862.7 964.5 863.2 964.7 L864.3 965.1 L865.4 965.1 L866.5 965.3 C866.6 965.4 866.7 965.5 866.8 965.6 L866.8 974.0 L902.5 974.0" fill="none" stroke="#000" stroke-width="2.5" stroke-linejoin="round" stroke-linecap="round"/>
<path d="M62.45 1191.2 V1195.8" stroke="#000" stroke-width="1.3" fill="none"/><path d="M61.9 1195.8 C62.0 1195.8 62.1 1195.9 62.1 1195.9 L63.6 1196.1 L65.1 1195.7 L66.5 1196.0 L68.0 1196.4 L69.4 1196.4 L70.9 1196.2 L72.4 1196.3 L73.9 1196.4 L75.4 1196.1 L76.9 1195.5 L78.5 1195.9 L80.0 1195.7 L81.5 1195.7 L83.0 1195.7 L84.4 1195.7 L85.9 1195.7 L87.4 1195.7 L88.8 1196.2 L90.3 1195.7 L91.8 1195.7 L93.2 1196.3 L94.7 1195.9 L96.3 1196.1 L97.9 1196.2 L99.5 1195.8 L101.1 1195.9 L102.7 1196.0 L104.3 1195.9 L105.8 1195.7 L107.4 1195.4 L109.0 1195.2 L110.6 1195.4 L112.2 1195.6 L113.8 1194.9 L115.4 1194.9 L117.0 1195.0 L118.6 1194.6 L120.1 1194.9 L121.7 1195.0 L123.3 1194.7 L124.9 1194.7 L126.5 1194.6 L128.0 1194.7 L129.6 1194.9 L131.1 1195.0 L132.7 1195.2 L134.2 1195.5 L135.8 1195.0 L137.3 1195.6 L138.9 1195.8 L140.4 1195.7 L141.9 1195.9 L143.5 1196.0 L145.0 1195.9 L146.4 1195.8 L147.7 1195.5 L149.0 1194.9 L150.3 1194.4 L151.7 1193.7 L153.0 1193.1 L154.3 1192.8 L155.6 1192.0 L157.0 1191.5 L158.3 1190.9 L159.6 1190.0 L160.9 1189.6 L162.3 1188.8 L163.6 1188.4 L164.9 1187.4 L166.2 1186.7 L167.4 1185.8 L168.6 1185.1 L169.8 1184.1 L170.9 1183.1 L172.1 1181.9 L173.3 1180.9 L174.5 1179.6 L175.6 1178.7 L176.8 1177.4 C180.4 1173.9 183.9 1169.9 187.4 1165.5 C190.9 1161.1 194.5 1155.8 198.0 1150.9 C201.5 1146.1 205.1 1140.7 208.6 1136.3 C212.1 1132.0 215.7 1127.4 219.2 1124.4 L220.5 1123.2 L221.8 1122.3 L223.2 1121.1 L224.5 1120.4 L225.8 1119.6 L227.1 1119.1 L228.5 1118.5 L229.8 1118.1 L231.1 1118.0 L232.4 1118.1 L233.8 1117.8 L235.1 1118.1 L236.4 1118.2 L237.7 1118.3 L239.1 1119.0 L240.4 1119.1 L241.5 1119.4 L242.7 1120.2 L243.8 1121.1 L244.9 1122.4 L246.1 1123.2 L247.2 1124.4 L248.3 1125.8 C251.0 1128.5 253.6 1132.6 256.3 1136.3 C259.8 1141.3 263.3 1146.9 266.9 1152.2 C270.4 1157.5 273.9 1163.7 277.5 1168.1 C281.0 1172.5 284.5 1176.9 288.1 1179.5 L289.4 1180.6 L290.7 1181.3 L292.0 1181.9 L293.4 1182.7 L294.7 1183.2 L296.0 1184.0 L296.0 1185.4 L297.3 1185.4 L298.6 1185.8 L299.8 1186.6 L301.1 1186.4 L302.4 1186.3 L303.8 1185.3 L305.1 1184.0 C306.4 1182.7 307.8 1178.4 309.1 1174.3 C310.1 1171.3 311.1 1165.4 312.1 1162.3 C313.1 1159.1 314.2 1155.5 315.2 1154.6 L316.5 1153.7 L317.8 1153.2 C318.7 1153.2 319.7 1155.0 320.6 1156.2 C321.7 1157.7 322.7 1160.5 323.8 1161.9 C324.5 1162.7 325.2 1163.9 325.8 1163.9 C326.6 1163.9 327.4 1161.8 328.2 1160.2 C328.9 1159.0 329.6 1155.9 330.2 1155.2 C331.1 1154.4 331.9 1153.6 332.7 1153.6 C333.5 1153.6 334.4 1155.7 335.3 1157.2 C336.3 1159.1 337.3 1163.0 338.3 1165.3 C340.0 1169.0 341.7 1172.3 343.3 1174.8 C345.4 1177.7 347.4 1180.3 349.4 1182.0 L350.6 1183.1 L351.7 1183.7 L352.9 1184.5 L354.1 1185.3 L355.2 1185.7 L356.4 1186.4 L357.9 1186.9 L359.3 1187.3 L360.7 1188.4 L362.2 1188.6 L363.6 1188.9 L365.0 1189.2 L366.5 1189.8 L368.0 1190.2 L369.5 1190.5 L371.0 1191.0 L372.5 1191.5 L374.0 1191.4 L375.5 1192.1 L377.1 1192.5 L378.6 1192.5 L380.0 1192.5 L381.5 1193.2 L383.0 1192.9 L384.4 1193.2 L385.9 1193.4 L387.3 1193.8 L388.8 1194.1 L390.3 1194.2 L391.7 1194.7 L393.2 1194.6 L394.7 1194.9 L396.1 1194.9 L397.6 1195.0 L399.1 1194.9 L400.5 1195.8 L402.0 1195.6 L403.4 1195.6 L404.9 1195.7 L406.4 1195.5 L407.8 1196.0 L409.3 1195.8 L410.8 1196.1 L412.2 1196.2 L413.7 1196.0 L415.2 1196.0 L416.6 1196.3 L418.1 1195.9 L419.5 1196.0 L421.0 1196.1 L422.5 1196.5 L423.9 1196.0 L425.4 1196.6 L426.9 1196.5 L428.3 1196.4 L429.8 1196.9 L431.3 1196.7 L432.7 1196.6 L434.2 1197.4 L435.6 1197.1 L437.1 1197.7 L438.6 1197.6 L440.0 1197.9 L441.5 1197.9 L443.0 1198.1 L444.5 1198.4 L446.0 1198.6 L447.5 1198.4 L449.0 1198.5 L450.5 1198.8 L452.0 1199.4 L453.5 1198.8 L455.0 1199.0 L456.6 1199.2 L458.1 1199.6 L459.6 1199.7 L461.1 1199.5 L462.6 1199.3 L464.1 1199.6 L465.5 1199.2 L467.0 1199.4 L468.5 1199.5 L470.0 1199.3 L471.5 1199.6 L473.1 1199.1 L474.6 1199.3 L476.1 1199.2 L477.7 1199.3 L479.2 1199.6 L480.8 1199.4 L482.3 1199.7 L483.8 1199.8 L485.4 1199.9 L486.9 1200.1 L488.4 1200.4 L490.0 1199.9 L491.5 1199.8 L493.0 1200.1 L494.6 1200.0 L496.1 1200.1 L497.6 1200.5 L499.2 1200.7 L500.7 1200.5 L502.3 1200.8 L503.8 1200.2 L505.3 1200.3 L506.9 1200.1 L508.4 1199.6 L509.9 1199.6 L511.5 1199.1 L513.0 1199.4 L514.5 1199.3 L516.1 1199.0 L517.6 1199.3 L519.2 1198.9 L520.7 1199.4 L522.2 1200.1 L523.8 1200.4 L525.3 1200.8 L526.8 1200.7 L528.4 1200.9 L529.9 1201.5 L531.4 1201.4 L533.0 1201.7 L534.5 1201.3 L536.0 1201.4 L537.6 1201.2 L539.1 1200.9 L540.7 1200.9 L542.2 1200.7 L543.7 1200.3 L545.3 1200.7 L546.8 1200.5 L548.3 1200.5 L549.9 1200.6 L551.4 1200.6 L552.9 1200.8 L554.5 1200.2 L556.0 1200.7 L557.6 1200.9 L559.1 1201.1 L560.6 1200.7 L562.2 1200.8 L563.7 1200.7 L565.2 1200.6 L566.8 1200.9 L568.3 1200.6 L569.8 1201.1 L571.4 1201.0 L572.9 1200.7 L574.4 1201.3 L576.0 1201.1 L577.5 1201.3 L579.1 1201.1 L580.6 1201.1 L582.1 1201.2 L583.7 1201.2 L585.2 1201.8 L586.7 1201.4 L588.3 1201.4 L589.8 1201.4 L591.3 1201.3 L592.9 1201.0 L594.4 1200.9 L596.0 1200.5 L597.5 1199.9 L599.0 1199.9 L600.6 1199.6 L602.1 1199.3 L603.6 1199.4 L605.2 1199.1 L606.7 1198.8 L608.2 1198.7 L609.8 1198.4 L611.3 1198.7 L612.9 1197.9 L614.4 1198.0 L615.9 1197.6 L617.5 1197.8 L619.0 1197.4 L620.5 1196.8 L622.1 1196.9 L623.6 1196.8 L625.1 1196.9 L626.7 1196.7 L628.2 1197.4 L629.7 1196.9 L631.3 1197.5 L632.8 1197.7 L634.4 1198.0 L635.9 1197.7 L637.4 1197.9 L639.0 1197.5 L640.5 1197.8 L642.0 1197.3 L643.6 1197.9 L645.1 1198.0 L646.6 1197.7 L647.8 1197.2 L648.9 1196.2 L650.1 1195.4 L651.2 1194.7 L652.8 1194.4 L654.3 1194.3 L655.9 1193.8 L657.4 1193.8 L658.9 1193.1 L660.1 1192.4 L661.2 1191.6 L662.4 1190.5 L663.5 1189.1 C664.8 1187.7 666.0 1186.0 667.2 1183.0 C668.0 1180.9 668.9 1175.0 669.7 1172.2 C670.5 1169.5 671.3 1165.5 672.1 1165.5 C673.2 1165.5 674.2 1168.5 675.2 1168.5 L676.1 1168.2 L677.1 1167.4 L678.0 1166.5 L678.9 1165.5 L680.1 1164.5 L681.2 1162.9 L682.4 1161.8 L683.5 1161.5 L685.0 1161.4 L686.6 1162.2 L688.1 1162.4 L689.3 1162.9 L690.6 1163.2 L691.8 1163.5 L693.0 1164.1 L694.3 1164.5 L695.4 1165.5 L696.6 1166.8 L697.7 1168.0 L698.9 1168.5 L700.2 1168.2 L701.5 1167.1 L702.9 1166.7 L703.8 1166.9 L704.7 1167.8 L705.6 1168.6 L706.5 1169.8 C708.1 1171.4 709.6 1175.4 711.1 1176.8 L712.3 1177.8 L713.5 1178.8 L714.6 1179.7 L715.8 1179.9 L716.9 1179.3 L718.1 1178.0 L719.2 1176.7 L720.4 1176.2 L721.9 1176.7 L723.4 1176.8 L724.6 1177.7 L725.7 1178.7 L726.9 1179.5 L728.0 1179.9 C729.6 1179.9 731.1 1174.4 732.7 1174.4 L733.7 1174.6 L734.7 1175.8 L735.7 1176.8 C736.7 1178.0 737.7 1182.6 738.7 1184.5 C740.3 1187.3 741.8 1191.0 743.3 1191.0 L744.7 1190.9 L746.1 1190.3 L747.5 1190.1 L748.9 1190.0 L750.1 1189.8 L751.4 1189.7 L752.6 1190.0 C753.5 1190.0 754.5 1188.4 755.4 1186.3 C756.0 1185.0 756.6 1181.7 757.2 1177.1 C757.7 1173.4 758.2 1165.2 758.7 1156.7 C759.2 1149.2 759.6 1138.0 760.0 1127.0 C760.5 1116.1 760.9 1097.3 761.3 1089.9 C761.7 1083.5 762.1 1076.0 762.4 1076.0 C762.9 1076.0 763.3 1081.8 763.7 1086.2 C764.2 1091.3 764.7 1104.7 765.2 1108.5 C765.8 1112.7 766.3 1116.8 766.9 1116.8 C767.4 1116.8 767.9 1112.7 768.4 1108.5 C768.9 1104.3 769.4 1092.3 769.9 1082.5 C770.3 1072.8 770.8 1061.6 771.3 1049.2 C771.8 1038.2 772.2 1021.3 772.6 1012.1 C773.1 1002.8 773.5 992.0 773.9 989.8 C774.2 988.3 774.5 987.0 774.9 987.0 C775.3 987.0 775.7 990.0 776.1 993.5 C776.6 997.6 777.1 1016.8 777.6 1030.6 C778.1 1044.3 778.6 1063.8 779.1 1077.0 C779.7 1093.4 780.4 1108.4 781.0 1119.6 C781.6 1130.8 782.2 1140.7 782.8 1147.4 C783.6 1155.4 784.3 1161.7 785.0 1165.9 C786.0 1171.3 786.9 1175.8 787.8 1178.0 C788.8 1180.2 789.7 1182.4 790.6 1182.6 L791.8 1182.5 L793.1 1182.7 L794.3 1183.0 L795.2 1183.6 L796.2 1184.6 L797.1 1185.0 L798.5 1184.6 L799.9 1184.5 C801.0 1184.1 802.1 1182.9 803.2 1180.8 C803.8 1179.6 804.5 1175.9 805.1 1171.5 C805.7 1167.1 806.3 1158.6 806.9 1149.3 C807.4 1141.8 807.9 1128.7 808.4 1119.6 C808.8 1111.6 809.3 1100.2 809.7 1097.3 C810.1 1094.9 810.5 1092.7 810.8 1092.7 C811.2 1092.7 811.6 1096.9 811.9 1099.2 C812.4 1101.9 812.8 1107.5 813.2 1107.5 C813.6 1107.5 814.0 1101.1 814.3 1097.3 C814.6 1094.2 815.0 1087.7 815.3 1087.2 C815.6 1086.6 816.0 1086.2 816.4 1086.2 C816.8 1086.2 817.1 1092.5 817.5 1097.3 C818.0 1103.9 818.5 1118.7 819.0 1127.0 C819.5 1136.4 820.1 1146.1 820.6 1151.1 C821.3 1156.7 821.9 1161.2 822.5 1163.2 C823.4 1166.1 824.4 1168.7 825.3 1168.7 C826.1 1168.7 826.9 1167.2 827.7 1166.3 C828.6 1165.3 829.5 1164.0 830.5 1163.2 L831.4 1162.5 L832.3 1161.8 L833.2 1160.9 C834.5 1159.8 835.7 1158.5 837.0 1156.7 C837.9 1155.3 838.8 1152.6 839.7 1151.1 C840.7 1149.6 841.6 1148.9 842.5 1147.4 C843.4 1145.9 844.4 1143.3 845.3 1141.8 C846.2 1140.4 847.2 1139.5 848.1 1138.1 C849.3 1136.3 850.6 1134.4 851.8 1131.7 C852.7 1129.6 853.6 1125.7 854.6 1123.3 C855.5 1120.9 856.4 1118.3 857.4 1116.8 C858.1 1115.6 858.8 1115.6 859.6 1114.0 C860.1 1113.0 860.6 1106.6 861.1 1106.6 C861.7 1106.6 862.3 1109.4 862.9 1109.4 C863.5 1109.4 864.1 1108.5 864.8 1107.5 C865.3 1106.8 865.8 1102.5 866.2 1102.5 C866.4 1102.5 866.5 1110.2 866.6 1114.0 L866.6 1191.5 L902.4 1191.5" fill="none" stroke="#000" stroke-width="2.5" stroke-linejoin="round" stroke-linecap="round"/>
<path d="M62.45 1336.0 V1348.5" stroke="#000" stroke-width="1.3" fill="none"/><path d="M61.9 1348.5 C62.0 1348.5 62.1 1348.5 62.1 1348.5 L63.6 1349.0 L65.1 1348.5 L66.5 1348.2 L68.0 1348.5 L69.4 1348.1 L70.9 1348.0 L72.4 1347.8 L73.9 1348.3 L75.4 1348.1 L76.9 1348.0 L78.5 1348.1 L80.0 1347.8 L81.5 1348.2 L83.0 1348.3 L84.4 1348.6 L85.9 1348.8 L87.4 1348.4 L88.8 1348.2 L90.3 1348.1 L91.8 1349.0 L93.2 1348.5 L94.7 1348.8 L96.0 1348.2 L97.4 1347.5 L98.9 1347.5 L100.4 1347.8 L101.9 1347.6 L103.4 1347.4 L104.9 1347.5 L106.5 1347.7 L108.0 1348.0 L109.4 1347.5 L110.9 1348.0 L112.4 1347.9 L113.9 1348.0 L115.3 1347.8 L116.8 1348.1 L118.3 1347.2 L119.7 1347.6 L121.2 1347.5 L122.7 1348.0 L124.2 1347.0 L125.6 1347.1 L127.1 1347.0 L128.6 1347.7 L130.0 1348.1 L131.5 1347.4 L133.0 1348.1 L134.4 1347.7 L136.0 1347.9 L137.5 1348.1 L139.0 1348.0 L140.5 1346.9 L142.0 1346.6 L143.5 1347.2 L145.0 1346.9 L146.6 1346.7 L148.1 1346.5 L149.6 1346.1 L151.1 1345.4 L152.6 1345.5 L154.1 1345.3 L155.6 1344.8 L157.2 1344.2 L158.7 1344.5 L160.2 1344.5 L161.7 1343.9 L163.2 1343.2 L164.7 1343.0 L166.2 1342.7 L167.7 1342.6 L169.3 1341.8 L170.8 1341.7 L172.3 1340.7 L173.8 1340.9 L175.3 1339.6 L176.8 1339.5 L178.1 1339.2 L179.5 1338.8 L180.8 1338.1 L182.1 1337.3 L183.4 1336.4 L184.8 1335.5 L186.1 1335.4 L187.4 1334.2 L188.6 1333.6 L189.8 1332.4 L190.9 1331.5 L192.1 1331.0 L193.3 1329.5 L194.5 1328.4 L195.7 1327.5 L196.8 1326.8 L198.0 1325.5 C201.1 1322.8 204.2 1319.2 207.3 1316.7 L208.4 1315.8 L209.5 1314.7 L210.6 1314.1 L211.7 1313.2 L212.8 1313.0 L213.9 1312.2 L215.2 1311.7 L216.5 1311.6 L217.9 1310.8 L219.2 1310.5 L220.5 1310.4 L221.8 1310.8 L223.2 1310.2 L224.5 1310.4 L225.8 1311.7 L227.1 1311.4 L228.5 1311.8 L229.8 1312.7 L231.1 1313.1 L232.4 1314.0 L233.8 1314.7 L235.1 1315.7 C238.6 1318.0 242.1 1322.3 245.7 1325.5 L246.9 1326.7 L248.0 1327.8 L249.2 1329.0 L250.4 1330.1 L251.6 1330.8 L252.7 1331.7 L253.9 1333.2 L255.1 1333.8 L256.3 1334.8 L257.6 1336.0 L258.9 1336.2 L260.2 1337.1 L261.6 1338.1 L262.9 1339.2 L264.2 1339.8 L265.5 1340.1 L266.9 1340.8 L268.4 1341.0 L269.9 1341.6 L271.4 1342.3 L272.9 1342.9 L274.4 1343.3 L275.9 1343.9 L277.5 1344.0 C278.3 1344.1 279.2 1344.2 280.0 1344.3 L281.4 1344.3 L282.8 1345.3 L284.1 1345.4 L285.5 1345.3 L286.9 1345.3 L288.3 1345.9 L289.6 1346.5 L291.0 1346.1 L292.4 1345.7 L293.8 1345.7 L295.2 1345.2 L296.5 1344.8 L297.6 1344.5 L298.6 1343.7 L299.6 1342.5 L300.7 1341.6 C301.8 1340.4 303.0 1339.0 304.1 1336.8 C304.9 1335.2 305.7 1333.0 306.4 1329.9 C307.0 1327.5 307.6 1323.0 308.2 1318.9 C308.7 1315.6 309.2 1310.8 309.6 1307.8 C310.1 1304.8 310.5 1300.7 311.0 1300.3 C311.4 1299.8 311.9 1299.6 312.4 1299.6 C312.8 1299.6 313.3 1304.0 313.7 1304.4 C314.2 1304.8 314.7 1305.1 315.1 1305.1 C315.7 1305.1 316.3 1303.0 316.9 1303.0 C317.5 1303.0 318.0 1304.1 318.6 1305.1 C319.2 1306.3 319.9 1309.5 320.6 1311.3 C321.5 1313.7 322.5 1315.8 323.4 1317.5 C324.3 1319.1 325.2 1320.8 326.1 1321.6 C326.8 1322.2 327.5 1323.0 328.2 1323.0 C328.8 1323.0 329.3 1320.8 329.9 1318.9 C330.3 1317.2 330.8 1312.9 331.2 1310.6 C331.6 1308.7 332.0 1305.8 332.3 1305.8 C332.8 1305.8 333.2 1306.0 333.7 1306.5 C334.2 1306.9 334.6 1310.7 335.1 1313.3 C335.6 1316.5 336.2 1321.7 336.7 1324.4 C337.3 1327.3 337.9 1329.6 338.5 1331.2 C339.4 1333.7 340.4 1335.7 341.3 1336.8 L342.3 1338.1 L343.3 1338.8 L344.4 1339.3 L345.4 1340.2 L346.7 1340.8 L347.9 1341.3 L349.1 1341.8 L350.4 1342.3 L351.6 1343.0 L353.0 1343.7 L354.4 1344.3 L355.7 1344.6 L357.1 1344.0 L358.5 1344.6 L359.9 1345.0 L361.4 1344.9 L362.9 1345.2 L364.5 1345.6 L366.0 1346.0 L367.5 1345.9 L369.1 1345.8 L370.6 1346.2 L372.1 1346.3 L373.6 1346.4 L375.1 1346.2 L376.6 1346.7 L378.1 1346.3 L379.7 1347.3 L381.2 1346.8 L382.7 1347.6 L384.2 1347.8 L385.7 1347.5 L387.2 1347.2 L388.7 1347.2 L390.2 1347.8 L391.7 1348.3 L393.2 1347.3 L394.8 1347.6 L396.3 1347.7 L397.8 1348.1 L399.3 1348.4 L400.9 1347.6 L402.4 1348.1 L403.9 1348.0 C404.6 1348.1 405.3 1348.4 406.0 1348.5 C406.6 1348.5 407.1 1348.5 407.7 1348.6 C408.3 1348.6 408.8 1348.9 409.4 1348.9 C410.0 1348.9 410.5 1348.2 411.1 1348.2 C411.7 1348.2 412.2 1348.6 412.8 1348.8 C413.4 1348.9 413.9 1349.1 414.5 1349.1 C415.1 1349.2 415.6 1349.2 416.2 1349.2 C416.8 1349.2 417.3 1348.3 417.9 1348.3 C418.5 1348.3 419.0 1349.0 419.6 1349.0 C420.2 1349.0 420.7 1349.0 421.3 1349.0 C421.9 1349.0 422.4 1348.8 423.0 1348.8 C423.6 1348.8 424.1 1349.5 424.7 1349.5 C425.3 1349.5 425.8 1349.0 426.4 1349.0 C427.0 1348.9 427.5 1348.9 428.1 1348.9 C428.7 1348.9 429.2 1349.6 429.8 1349.6 C430.4 1349.6 430.9 1349.4 431.5 1349.3 C432.1 1349.1 432.6 1348.9 433.2 1348.9 C433.8 1348.9 434.3 1348.9 434.9 1348.9 C435.5 1348.9 436.0 1349.2 436.6 1349.2 C437.2 1349.2 437.7 1348.7 438.3 1348.7 C438.9 1348.7 439.4 1349.3 440.0 1349.4 C440.6 1349.5 441.1 1349.6 441.7 1349.6 C442.3 1349.6 442.8 1349.3 443.4 1349.3 C444.0 1349.3 444.5 1349.8 445.1 1349.8 C445.7 1349.9 446.2 1350.0 446.8 1350.0 C447.4 1350.0 447.9 1349.5 448.5 1349.5 C449.1 1349.5 449.6 1349.8 450.2 1349.8 C450.8 1349.8 451.3 1349.1 451.9 1349.1 C452.5 1349.0 453.0 1349.0 453.6 1349.0 C454.2 1349.0 454.7 1350.3 455.3 1350.3 C455.9 1350.3 456.4 1349.4 457.0 1349.4 C457.6 1349.4 458.1 1349.3 458.7 1349.3 C459.3 1349.3 459.8 1350.3 460.4 1350.3 C461.0 1350.3 461.5 1350.2 462.1 1350.1 C462.7 1350.0 463.2 1349.3 463.8 1349.3 C464.4 1349.3 464.9 1349.6 465.5 1349.6 C466.1 1349.6 466.6 1349.6 467.2 1349.6 C467.8 1349.6 468.3 1349.7 468.9 1349.7 C469.5 1349.7 470.0 1349.3 470.6 1349.3 C471.2 1349.3 471.7 1350.1 472.3 1350.1 C472.9 1350.1 473.4 1349.8 474.0 1349.8 C474.6 1349.8 475.1 1350.0 475.7 1350.0 C476.3 1350.0 476.8 1349.8 477.4 1349.7 C478.0 1349.7 478.5 1349.7 479.1 1349.7 C479.7 1349.7 480.2 1349.6 480.8 1349.6 C481.4 1349.6 481.9 1350.7 482.5 1350.7 C483.1 1350.7 483.6 1350.7 484.2 1350.6 C484.8 1350.6 485.3 1350.5 485.9 1350.4 C486.5 1350.3 487.0 1349.9 487.6 1349.9 C488.2 1349.9 488.7 1350.0 489.3 1350.0 C489.9 1350.0 490.4 1350.0 491.0 1350.0 C491.6 1350.0 492.1 1350.3 492.7 1350.3 C493.3 1350.3 493.8 1350.0 494.4 1350.0 C495.0 1350.0 495.5 1350.3 496.1 1350.3 C496.7 1350.3 497.2 1350.2 497.8 1350.2 C498.4 1350.2 498.9 1350.2 499.5 1350.3 C500.1 1350.3 500.6 1350.9 501.2 1350.9 C501.8 1350.9 502.3 1350.7 502.9 1350.7 C503.5 1350.7 504.0 1350.7 504.6 1350.7 C505.2 1350.7 505.7 1350.6 506.3 1350.6 C506.9 1350.6 507.4 1350.8 508.0 1350.9 C508.6 1351.0 509.1 1351.3 509.7 1351.3 C510.3 1351.3 510.8 1350.8 511.4 1350.7 C512.0 1350.6 512.5 1350.4 513.1 1350.4 C513.7 1350.4 514.2 1351.0 514.8 1351.0 C515.4 1351.0 515.9 1350.9 516.5 1350.9 C517.1 1350.9 517.6 1351.5 518.2 1351.5 C518.8 1351.5 519.3 1350.6 519.9 1350.6 C520.5 1350.6 521.0 1351.7 521.6 1351.7 C522.2 1351.7 522.7 1350.6 523.3 1350.6 C523.9 1350.6 524.4 1351.3 525.0 1351.3 C525.6 1351.3 526.1 1351.3 526.7 1351.2 C527.3 1351.2 527.8 1351.1 528.4 1351.1 C529.0 1351.1 529.5 1351.8 530.1 1351.8 C530.7 1351.8 531.2 1351.7 531.8 1351.6 C532.4 1351.5 532.9 1350.9 533.5 1350.9 C534.1 1350.9 534.6 1351.3 535.2 1351.3 C535.8 1351.4 536.3 1351.5 536.9 1351.5 C537.5 1351.5 538.0 1350.8 538.6 1350.8 C539.2 1350.8 539.7 1350.8 540.3 1350.8 C540.9 1350.9 541.4 1351.4 542.0 1351.5 C542.6 1351.6 543.1 1351.7 543.7 1351.7 C544.3 1351.7 544.8 1351.4 545.4 1351.4 C546.0 1351.3 546.5 1351.3 547.1 1351.3 C547.7 1351.3 548.2 1351.5 548.8 1351.5 C549.4 1351.5 549.9 1351.1 550.5 1351.1 C551.1 1351.1 551.6 1351.9 552.2 1352.0 C552.8 1352.0 553.3 1352.1 553.9 1352.1 C554.5 1352.1 555.0 1351.7 555.6 1351.5 C556.2 1351.3 556.7 1350.9 557.3 1350.9 C557.9 1350.9 558.4 1351.2 559.0 1351.4 C559.6 1351.5 560.1 1351.9 560.7 1351.9 C561.3 1351.9 561.8 1351.4 562.4 1351.3 C563.0 1351.2 563.5 1351.0 564.1 1351.0 C564.7 1351.0 565.2 1351.1 565.8 1351.1 C566.4 1351.2 566.9 1351.8 567.5 1351.8 C568.1 1351.8 568.6 1351.8 569.2 1351.7 C569.8 1351.7 570.3 1351.3 570.9 1351.3 C571.5 1351.3 572.0 1351.7 572.6 1351.8 C573.2 1351.8 573.7 1351.9 574.3 1351.9 C574.9 1352.0 575.4 1352.2 576.0 1352.2 C576.6 1352.2 577.1 1352.0 577.7 1351.9 C578.3 1351.8 578.8 1351.3 579.4 1351.3 C580.0 1351.3 580.5 1351.6 581.1 1351.7 C581.7 1351.7 582.2 1351.7 582.8 1351.7 C583.4 1351.7 583.9 1351.6 584.5 1351.6 C585.1 1351.5 585.6 1351.4 586.2 1351.3 C586.8 1351.2 587.3 1351.1 587.9 1351.0 C588.5 1350.9 589.0 1350.8 589.6 1350.8 C590.2 1350.8 590.7 1351.2 591.3 1351.2 C591.9 1351.2 592.4 1350.8 593.0 1350.8 C593.6 1350.8 594.1 1350.8 594.7 1350.8 C595.3 1350.8 595.8 1350.2 596.4 1350.1 C597.0 1350.0 597.5 1349.8 598.1 1349.8 C598.7 1349.8 599.2 1349.9 599.8 1350.0 C600.4 1350.0 600.9 1350.3 601.5 1350.3 C602.1 1350.3 602.6 1350.2 603.2 1350.2 C603.8 1350.1 604.3 1349.6 604.9 1349.5 C605.5 1349.5 606.0 1349.4 606.6 1349.4 C607.2 1349.4 607.7 1350.2 608.3 1350.2 C608.9 1350.2 609.4 1349.0 610.0 1349.0 C610.6 1349.0 611.1 1349.9 611.7 1349.9 C612.3 1349.9 612.8 1349.7 613.4 1349.6 C614.0 1349.4 614.5 1349.2 615.1 1349.2 C615.7 1349.2 616.2 1349.4 616.8 1349.4 C617.4 1349.4 617.9 1348.9 618.5 1348.5 C619.1 1348.2 619.6 1347.2 620.2 1347.2 C620.8 1347.2 621.3 1348.0 621.9 1348.0 C622.5 1348.0 623.0 1346.8 623.6 1346.8 C624.2 1346.8 624.7 1347.4 625.3 1347.4 C625.9 1347.4 626.4 1347.4 627.0 1347.4 C627.6 1347.3 628.1 1346.6 628.7 1346.6 C629.3 1346.5 629.8 1346.5 630.4 1346.5 C631.0 1346.5 631.5 1346.5 632.1 1346.6 C632.7 1346.7 633.2 1347.8 633.8 1348.0 C634.4 1348.2 634.9 1348.5 635.5 1348.5 C636.1 1348.5 636.6 1348.2 637.2 1348.2 C637.8 1348.2 638.3 1348.4 638.9 1348.5 L640.3 1349.2 L641.7 1349.2 L643.2 1349.4 L644.6 1349.8 L646.0 1349.7 L647.4 1349.7 L648.9 1349.1 L650.4 1349.3 L651.9 1349.1 L653.3 1348.8 L654.8 1348.5 L656.3 1348.7 L657.8 1348.5 L659.3 1347.5 C660.3 1347.1 661.3 1345.6 662.2 1343.0 C662.8 1341.5 663.4 1334.9 664.0 1331.2 C664.5 1328.1 665.0 1323.0 665.5 1322.3 C666.2 1321.4 666.8 1321.7 667.4 1320.8 C667.9 1320.1 668.4 1315.2 668.9 1314.1 C669.7 1312.5 670.4 1311.2 671.1 1311.2 C671.7 1311.2 672.3 1312.7 672.9 1314.1 C673.6 1315.7 674.2 1321.0 674.9 1323.8 C675.6 1326.9 676.3 1330.7 677.1 1331.9 C677.7 1332.9 678.3 1333.9 678.9 1333.9 L680.0 1333.1 L681.1 1332.8 L682.3 1332.4 L683.5 1331.5 L684.7 1332.0 L686.0 1330.9 C686.7 1330.4 687.5 1328.2 688.2 1326.0 C688.7 1324.5 689.2 1320.9 689.7 1319.3 C690.2 1317.7 690.7 1315.6 691.2 1315.6 C691.7 1315.6 692.2 1318.7 692.6 1320.8 C693.1 1322.9 693.6 1327.6 694.1 1329.0 C695.1 1331.7 696.1 1333.0 697.1 1334.2 L698.3 1335.3 L699.6 1336.5 L700.8 1337.1 L702.1 1337.6 L703.4 1337.0 L704.7 1336.5 L706.0 1337.1 C707.0 1337.1 708.0 1339.5 709.0 1340.1 L710.4 1340.9 L711.9 1341.3 L713.2 1340.9 L714.5 1340.9 L715.8 1340.1 L717.1 1340.1 L718.4 1339.6 L719.6 1338.9 L720.8 1338.6 L722.3 1337.9 L723.8 1337.9 L724.8 1338.1 L725.8 1339.5 L726.8 1340.1 L728.0 1341.2 L729.2 1341.2 L730.5 1341.6 L732.0 1341.8 L733.4 1341.7 L734.9 1341.3 L736.4 1340.8 L737.6 1340.2 L738.9 1339.0 L740.1 1338.3 L741.6 1338.1 L743.1 1338.3 C743.9 1338.3 744.8 1336.8 745.6 1336.8 C746.2 1336.8 746.9 1338.7 747.5 1339.3 L748.5 1340.3 L749.5 1341.4 L750.5 1341.6 L752.0 1342.4 L753.5 1342.3 C754.0 1342.3 754.5 1339.8 755.0 1337.9 C755.6 1335.7 756.3 1332.8 756.9 1328.6 C757.5 1324.5 758.1 1316.3 758.7 1310.1 C759.2 1305.8 759.6 1298.2 760.0 1297.1 C760.5 1296.1 760.9 1295.3 761.3 1295.3 C761.8 1295.3 762.3 1300.5 762.8 1302.7 C763.4 1305.4 764.0 1310.1 764.7 1310.1 C765.4 1310.1 766.1 1307.0 766.9 1304.5 C767.5 1302.5 768.1 1299.4 768.7 1295.3 C769.2 1291.9 769.7 1286.4 770.2 1280.4 C770.7 1274.5 771.2 1265.8 771.7 1258.2 C772.1 1251.6 772.6 1239.5 773.0 1237.8 C773.3 1236.6 773.6 1235.6 773.9 1235.6 C774.3 1235.6 774.7 1238.6 775.0 1241.5 C775.5 1245.4 776.0 1258.0 776.5 1265.6 C777.2 1276.0 777.9 1287.6 778.6 1295.3 C779.4 1304.4 780.2 1312.3 781.0 1317.5 C781.8 1323.2 782.7 1327.8 783.6 1330.5 C784.7 1334.0 785.8 1336.6 786.9 1337.9 L788.1 1338.9 L789.4 1339.8 L790.6 1340.7 L791.8 1341.4 L793.1 1342.1 L794.3 1342.5 L795.6 1341.9 L796.8 1340.9 L798.0 1339.8 L799.0 1338.6 L799.9 1337.7 L800.8 1337.5 L802.2 1337.8 L803.6 1337.9 C804.2 1337.9 804.8 1333.9 805.4 1330.5 C806.1 1327.1 806.7 1320.2 807.3 1313.8 C807.9 1307.5 808.5 1295.2 809.1 1291.6 C809.6 1288.7 810.1 1285.6 810.6 1285.6 C811.1 1285.6 811.5 1290.4 811.9 1293.4 C812.5 1297.8 813.2 1307.3 813.8 1310.1 C814.4 1312.9 815.0 1314.7 815.6 1315.7 C816.3 1316.6 816.9 1316.5 817.5 1317.5 C818.1 1318.5 818.7 1322.2 819.4 1324.9 C820.0 1327.7 820.6 1332.3 821.2 1334.2 C822.0 1336.7 822.8 1339.4 823.6 1339.4 L824.9 1339.4 L826.2 1338.8 C827.0 1338.5 827.8 1333.5 828.6 1332.3 C829.2 1331.5 829.9 1330.5 830.5 1330.5 C831.4 1330.5 832.3 1333.4 833.2 1334.2 L834.2 1335.3 L835.1 1335.9 L836.0 1336.1 L837.0 1335.6 L837.9 1334.9 L838.8 1334.2 C839.7 1333.2 840.7 1329.0 841.6 1324.9 C842.2 1322.2 842.8 1316.4 843.5 1313.8 C844.1 1311.2 844.7 1307.9 845.3 1307.9 C845.8 1307.9 846.3 1311.4 846.8 1313.8 C847.3 1316.5 847.9 1322.3 848.5 1324.0 C849.3 1326.4 850.1 1328.6 850.9 1328.6 C851.8 1328.6 852.7 1326.9 853.6 1325.9 C854.9 1324.5 856.1 1322.2 857.4 1320.9 C858.6 1319.5 859.8 1317.5 861.1 1317.5 C861.7 1317.5 862.3 1319.0 862.9 1319.0 C863.5 1319.0 864.1 1315.9 864.8 1315.7 C865.3 1315.5 865.8 1315.3 866.2 1315.3 C866.4 1315.3 866.5 1315.5 866.6 1315.7 L866.6 1337.0 L902.4 1337.0" fill="none" stroke="#000" stroke-width="2.5" stroke-linejoin="round" stroke-linecap="round"/>
<ellipse cx="217.05" cy="1324.6" rx="74.15" ry="30.2" fill="none" stroke="#00b050" stroke-width="3"/>
<ellipse cx="324.8" cy="1302.3" rx="20.9" ry="33.55" fill="none" stroke="#c00000" stroke-width="3"/>
<ellipse cx="677.2" cy="1320" rx="23.45" ry="41.85" fill="none" stroke="#00b050" stroke-width="3"/>
<ellipse cx="768.35" cy="1290.3" rx="22.9" ry="64.25" fill="none" stroke="#00b050" stroke-width="3"/>
<ellipse cx="811.2" cy="1312.4" rx="11.65" ry="34.15" fill="none" stroke="#00b050" stroke-width="3"/>
<ellipse cx="844.75" cy="1319.65" rx="9.65" ry="32.55" fill="none" stroke="#c00000" stroke-width="3"/>
</g>
<g id="panelC">
<path d="M61.9 2155.1 V1567.2 H902.4 V2155.1" fill="none" stroke="#444" stroke-width="1.15"/>
<path d="M61.9 2147.6 H902.4" fill="none" stroke="#444" stroke-width="1.15"/>
<path d="M182.0 2147.6 v7.5M302.0 2147.6 v7.5M422.1 2147.6 v7.5M542.2 2147.6 v7.5M662.3 2147.6 v7.5M782.3 2147.6 v7.5" stroke="#444" stroke-width="1.15" fill="none"/>
<text class="k" x="61.9" y="2184.6" text-anchor="middle">4000.00</text>
<text class="k" x="182.0" y="2184.6" text-anchor="middle">3500.00</text>
<text class="k" x="302.0" y="2184.6" text-anchor="middle">3000.00</text>
<text class="k" x="422.1" y="2184.6" text-anchor="middle">2500.00</text>
<text class="k" x="542.2" y="2184.6" text-anchor="middle">2000.00</text>
<text class="k" x="662.3" y="2184.6" text-anchor="middle">1500.00</text>
<text class="k" x="782.3" y="2184.6" text-anchor="middle">1000.00</text>
<text class="k" x="902.4" y="2184.6" text-anchor="middle">500.00</text>
<text class="t" x="469.3" y="1547.7" text-anchor="middle" style="font-size:29.0px;word-spacing:2.0px">Tetrabutylammonium bromide: Diethylene glycol</text>
<text class="p" x="20.5" y="1565.3">C</text>
<text class="l" x="69.2" y="1593.2">TBAB</text>
<text class="l" x="72.6" y="1752.3">DG</text>
<text class="l" x="69.8" y="1967.4">TBABDG</text>
<text class="a" transform="translate(37.0 1876.1) rotate(-90) scale(0.989 1.1)" text-anchor="middle" style="word-spacing:2px">Intensity (a.u)</text>
<text class="a" x="481.7" y="2216.9" text-anchor="middle" style="font-size:24px;word-spacing:2.9px">Wavenumber (cm<tspan dy="-7" font-size="16">-1</tspan><tspan dy="7">)</tspan></text>
<path d="M62.45 1712.9 V1703.7" stroke="#000" stroke-width="1.3" fill="none"/><path d="M61.9 1703.7 C62.4 1703.7 62.9 1703.5 63.4 1703.5 C64.0 1703.5 64.5 1703.6 65.1 1703.6 C65.7 1703.7 66.2 1704.0 66.8 1704.0 C67.3 1704.0 67.9 1703.5 68.5 1703.5 C69.0 1703.5 69.6 1703.6 70.2 1703.6 C70.7 1703.6 71.3 1703.6 71.9 1703.6 C72.4 1703.6 73.0 1703.2 73.5 1703.2 C74.1 1703.2 74.7 1703.5 75.2 1703.5 C75.8 1703.6 76.4 1703.6 76.9 1703.7 C77.5 1703.7 78.1 1703.8 78.6 1703.8 C79.2 1703.8 79.8 1703.1 80.3 1703.1 C80.9 1703.1 81.4 1703.3 82.0 1703.3 C82.6 1703.3 83.1 1703.1 83.7 1703.1 C84.3 1703.1 84.8 1703.8 85.4 1703.8 C86.0 1703.8 86.5 1703.7 87.1 1703.7 C87.7 1703.6 88.2 1703.0 88.8 1703.0 C89.3 1703.0 89.9 1703.9 90.5 1703.9 C91.0 1703.9 91.6 1703.9 92.2 1703.9 C92.7 1703.9 93.3 1703.6 93.9 1703.6 C94.4 1703.6 95.0 1703.6 95.6 1703.5 C96.1 1703.5 96.7 1703.2 97.2 1703.1 C97.8 1703.0 98.4 1703.0 98.9 1703.0 C99.5 1703.0 100.1 1703.4 100.6 1703.4 C101.2 1703.4 101.8 1703.0 102.3 1703.0 C102.9 1703.0 103.5 1703.1 104.0 1703.1 C104.6 1703.1 105.1 1703.1 105.7 1703.1 C106.3 1703.1 106.8 1702.9 107.4 1702.9 C108.0 1702.9 108.5 1703.3 109.1 1703.3 C109.7 1703.3 110.2 1703.3 110.8 1703.3 C111.4 1703.3 111.9 1703.7 112.5 1703.7 C113.0 1703.7 113.6 1703.3 114.2 1703.3 C114.7 1703.3 115.3 1703.5 115.9 1703.5 C116.4 1703.5 117.0 1703.3 117.6 1703.3 C118.1 1703.3 118.7 1703.5 119.2 1703.5 C119.8 1703.5 120.4 1703.3 121.0 1703.3 C121.5 1703.2 122.1 1703.1 122.6 1703.1 C123.2 1703.1 123.8 1703.7 124.3 1703.7 C124.9 1703.7 125.5 1703.7 126.0 1703.7 C126.6 1703.7 127.2 1703.6 127.7 1703.6 C128.3 1703.5 128.8 1703.5 129.4 1703.5 C130.0 1703.4 130.5 1703.1 131.1 1703.1 C131.7 1703.0 132.2 1703.0 132.8 1703.0 C133.4 1703.0 133.9 1703.0 134.5 1703.0 C135.1 1703.0 135.6 1702.8 136.2 1702.8 C136.7 1702.8 137.3 1703.5 137.9 1703.5 C138.4 1703.5 139.0 1703.1 139.6 1703.1 C140.1 1703.1 140.7 1703.5 141.3 1703.5 C141.8 1703.5 142.4 1703.1 142.9 1703.1 C143.5 1703.1 144.1 1703.6 144.7 1703.6 C145.2 1703.6 145.8 1703.6 146.3 1703.5 C146.9 1703.4 147.5 1702.7 148.0 1702.7 C148.6 1702.7 149.2 1702.8 149.7 1702.9 C150.3 1703.0 150.9 1703.5 151.4 1703.5 C152.0 1703.5 152.5 1703.1 153.1 1703.1 C153.7 1703.1 154.2 1703.6 154.8 1703.6 C155.4 1703.6 155.9 1703.2 156.5 1703.0 C157.1 1702.9 157.6 1702.7 158.2 1702.7 C158.8 1702.7 159.3 1703.2 159.9 1703.2 C160.4 1703.3 161.0 1703.3 161.6 1703.3 C162.1 1703.3 162.7 1703.0 163.3 1702.9 C163.8 1702.8 164.4 1702.7 165.0 1702.7 C165.5 1702.7 166.1 1702.8 166.7 1702.9 C167.2 1703.0 167.8 1703.5 168.3 1703.5 C168.9 1703.5 169.5 1703.4 170.0 1703.3 C170.6 1703.2 171.2 1702.7 171.7 1702.7 C172.3 1702.7 172.9 1702.8 173.4 1702.8 C174.0 1702.8 174.6 1702.7 175.1 1702.7 C175.7 1702.6 176.2 1702.6 176.8 1702.6 C177.4 1702.6 177.9 1703.3 178.5 1703.3 C179.1 1703.3 179.6 1702.7 180.2 1702.7 C180.8 1702.7 181.3 1703.0 181.9 1703.0 C182.5 1703.0 183.0 1703.0 183.6 1702.9 C184.1 1702.9 184.7 1702.7 185.3 1702.7 C185.8 1702.7 186.4 1703.2 187.0 1703.2 C187.5 1703.2 188.1 1702.6 188.7 1702.6 C189.2 1702.6 189.8 1703.1 190.3 1703.1 C190.9 1703.1 191.5 1702.6 192.0 1702.6 C192.6 1702.6 193.2 1702.8 193.7 1702.8 C194.3 1702.8 194.9 1702.7 195.4 1702.7 C196.0 1702.7 196.6 1702.7 197.1 1702.7 C197.7 1702.7 198.2 1703.3 198.8 1703.3 C199.4 1703.3 199.9 1703.3 200.5 1703.2 C201.1 1703.1 201.6 1702.7 202.2 1702.7 C202.8 1702.7 203.3 1703.2 203.9 1703.2 C204.5 1703.2 205.0 1702.7 205.6 1702.7 C206.1 1702.7 206.7 1702.8 207.3 1702.9 C207.8 1703.1 208.4 1703.5 209.0 1703.5 C209.5 1703.5 210.1 1703.4 210.7 1703.3 C211.2 1703.3 211.8 1702.9 212.4 1702.9 C212.9 1702.9 213.5 1703.8 214.1 1703.8 C214.6 1703.8 215.2 1703.2 215.7 1703.2 C216.3 1703.2 216.9 1703.3 217.4 1703.3 C218.0 1703.4 218.6 1703.9 219.1 1703.9 C219.7 1703.9 220.3 1703.6 220.8 1703.6 C221.4 1703.6 221.9 1703.6 222.5 1703.6 C223.1 1703.6 223.6 1703.5 224.2 1703.5 C224.8 1703.5 225.3 1703.5 225.9 1703.6 C226.5 1703.6 227.0 1704.1 227.6 1704.1 C228.2 1704.1 228.7 1703.9 229.3 1703.9 C229.8 1703.9 230.4 1704.3 231.0 1704.3 C231.5 1704.3 232.1 1704.2 232.7 1704.2 C233.2 1704.2 233.8 1704.3 234.4 1704.3 C234.9 1704.4 235.5 1704.9 236.1 1704.9 C236.6 1704.9 237.2 1704.5 237.8 1704.5 C238.3 1704.5 238.9 1704.6 239.4 1704.7 C240.0 1704.8 240.6 1705.1 241.1 1705.1 C241.7 1705.1 242.3 1704.5 242.8 1704.5 C243.4 1704.5 244.0 1704.5 244.5 1704.6 C245.1 1704.6 245.6 1705.3 246.2 1705.3 C246.8 1705.3 247.3 1705.3 247.9 1705.3 C248.5 1705.3 249.0 1704.8 249.6 1704.8 C250.2 1704.8 250.7 1704.8 251.3 1704.8 C251.9 1704.8 252.4 1705.3 253.0 1705.4 C253.5 1705.5 254.1 1705.6 254.7 1705.6 C255.2 1705.6 255.8 1705.0 256.4 1705.0 C256.9 1705.0 257.5 1705.8 258.1 1705.8 C258.6 1705.8 259.2 1705.8 259.8 1705.8 C260.3 1705.8 260.9 1705.6 261.4 1705.6 C262.0 1705.5 262.6 1705.5 263.1 1705.5 C263.7 1705.4 264.3 1705.2 264.8 1705.2 C265.4 1705.2 266.0 1705.2 266.5 1705.2 C267.1 1705.2 267.7 1706.2 268.2 1706.2 C268.8 1706.2 269.3 1705.5 269.9 1705.5 C270.5 1705.5 271.0 1706.0 271.6 1706.0 C272.2 1706.0 272.7 1705.7 273.3 1705.7 C273.9 1705.7 274.4 1706.3 275.0 1706.3 C275.6 1706.3 276.1 1706.2 276.7 1706.1 C277.2 1706.1 277.8 1705.9 278.4 1705.9 C278.9 1705.9 279.5 1705.8 280.1 1705.8 C280.5 1705.8 281.0 1706.6 281.5 1706.6 L283.0 1706.9 L284.5 1706.1 L286.0 1706.2 L287.5 1706.1 L289.1 1706.0 L290.5 1705.8 L292.0 1705.8 L293.5 1705.3 L295.0 1705.4 L296.4 1705.8 L297.9 1705.2 L299.0 1705.2 L300.0 1704.4 L301.1 1703.7 C301.7 1703.1 302.3 1700.7 303.0 1699.0 C303.5 1697.6 304.0 1694.3 304.5 1694.3 C305.3 1694.3 306.0 1697.8 306.8 1697.8 C307.4 1697.8 308.0 1693.4 308.7 1689.6 C309.1 1687.0 309.5 1683.1 309.9 1677.8 C310.4 1672.6 310.8 1658.5 311.2 1654.3 C311.6 1650.6 312.0 1646.7 312.3 1646.7 C312.7 1646.7 313.0 1650.0 313.4 1652.0 C313.7 1653.9 314.0 1658.0 314.4 1658.5 C314.9 1659.2 315.4 1659.0 315.9 1659.6 C316.4 1660.3 317.0 1665.4 317.5 1666.7 C318.2 1668.1 318.8 1669.2 319.4 1669.6 C320.3 1670.1 321.1 1670.0 322.0 1670.5 C322.6 1671.0 323.2 1676.6 323.9 1677.8 C324.5 1679.0 325.1 1679.3 325.8 1680.2 C326.7 1681.5 327.7 1684.6 328.7 1684.6 C329.2 1684.6 329.7 1682.5 330.2 1680.2 C330.6 1678.2 331.0 1670.0 331.5 1667.3 C331.9 1664.6 332.3 1661.4 332.7 1661.4 C333.1 1661.4 333.6 1663.2 334.0 1664.9 C334.6 1667.4 335.3 1677.0 335.9 1680.2 C336.5 1683.4 337.2 1686.0 337.8 1687.2 C338.8 1689.3 339.9 1690.3 340.9 1691.3 L341.9 1692.3 L342.9 1692.8 L343.8 1693.8 L344.8 1694.3 L346.0 1695.5 L347.3 1696.3 L348.6 1696.6 L349.8 1697.4 L351.1 1697.4 L352.3 1697.6 L353.6 1698.0 L354.9 1698.2 L356.1 1698.8 L357.4 1699.3 L358.7 1699.5 L359.9 1699.9 L361.2 1699.9 L362.5 1700.2 L363.7 1699.8 L365.0 1699.3 L366.3 1698.7 L367.5 1698.8 L368.8 1699.7 L370.1 1699.9 L371.3 1700.0 L372.6 1700.8 L373.9 1701.4 L375.1 1701.3 L376.6 1701.0 L378.2 1701.9 L379.7 1701.5 L381.2 1701.8 L382.7 1701.9 L384.2 1702.5 L385.6 1702.2 L387.1 1702.1 L388.5 1702.1 L390.0 1702.3 L391.4 1702.1 L392.9 1702.5 L394.2 1702.7 L395.6 1702.4 L396.9 1703.0 L398.2 1703.4 L399.6 1702.9 L400.9 1703.1 C401.6 1703.1 402.3 1703.1 402.9 1703.1 C403.5 1703.2 404.1 1703.4 404.6 1703.4 C405.2 1703.5 405.8 1703.5 406.3 1703.5 C406.9 1703.5 407.5 1703.1 408.0 1703.1 C408.6 1703.1 409.1 1703.1 409.7 1703.1 C410.3 1703.1 410.8 1703.5 411.4 1703.5 C412.0 1703.5 412.5 1703.5 413.1 1703.5 C413.7 1703.5 414.2 1704.1 414.8 1704.1 C415.4 1704.1 415.9 1704.1 416.5 1704.1 C417.0 1704.1 417.6 1704.1 418.2 1704.1 C418.7 1704.1 419.3 1704.1 419.9 1704.2 C420.4 1704.2 421.0 1704.4 421.6 1704.4 C422.1 1704.4 422.7 1704.0 423.2 1704.0 C423.8 1704.0 424.4 1704.3 424.9 1704.3 C425.5 1704.3 426.1 1704.2 426.6 1704.2 C427.2 1704.2 427.8 1705.0 428.3 1705.0 C428.9 1705.0 429.5 1704.2 430.0 1704.2 C430.6 1704.2 431.2 1705.0 431.7 1705.0 C432.3 1705.0 432.8 1704.3 433.4 1704.3 C434.0 1704.3 434.5 1704.9 435.1 1704.9 C435.7 1704.9 436.2 1704.7 436.8 1704.7 C437.4 1704.7 437.9 1704.7 438.5 1704.8 C439.1 1704.8 439.6 1705.2 440.2 1705.2 C440.7 1705.2 441.3 1704.5 441.9 1704.5 C442.4 1704.5 443.0 1704.5 443.6 1704.6 C444.1 1704.6 444.7 1705.4 445.3 1705.4 C445.8 1705.4 446.4 1705.2 446.9 1705.0 C447.5 1704.9 448.1 1704.7 448.6 1704.7 C449.2 1704.7 449.8 1705.6 450.3 1705.6 C450.9 1705.6 451.5 1705.6 452.0 1705.6 C452.6 1705.6 453.2 1704.8 453.7 1704.8 C454.3 1704.8 454.8 1705.2 455.4 1705.2 C456.0 1705.2 456.5 1704.9 457.1 1704.9 C457.7 1704.9 458.2 1705.1 458.8 1705.2 C459.4 1705.2 459.9 1705.5 460.5 1705.5 C461.1 1705.5 461.6 1705.1 462.2 1705.1 C462.8 1705.1 463.3 1705.6 463.9 1705.6 C464.4 1705.6 465.0 1705.0 465.6 1705.0 C466.1 1705.0 466.7 1705.1 467.3 1705.1 C467.8 1705.1 468.4 1705.7 469.0 1705.7 C469.5 1705.7 470.1 1705.3 470.6 1705.2 C471.2 1705.2 471.8 1705.2 472.3 1705.2 C472.9 1705.2 473.5 1705.4 474.0 1705.4 C474.6 1705.4 475.2 1705.3 475.7 1705.2 C476.3 1705.2 476.9 1705.2 477.4 1705.1 C478.0 1705.0 478.5 1704.8 479.1 1704.8 C479.7 1704.8 480.2 1705.3 480.8 1705.4 C481.4 1705.5 481.9 1705.6 482.5 1705.6 C483.1 1705.6 483.6 1705.5 484.2 1705.5 C484.8 1705.5 485.3 1705.3 485.9 1705.2 C486.4 1705.1 487.0 1704.9 487.6 1704.9 C488.1 1704.9 488.7 1704.9 489.3 1704.9 C489.8 1704.9 490.4 1705.1 491.0 1705.1 C491.5 1705.1 492.1 1705.1 492.7 1705.1 C493.2 1705.1 493.8 1704.5 494.4 1704.5 C494.9 1704.5 495.5 1704.7 496.0 1704.8 C496.6 1704.9 497.2 1705.0 497.7 1705.1 C498.3 1705.2 498.9 1705.2 499.4 1705.4 C500.0 1705.5 500.6 1705.8 501.1 1705.8 C501.7 1705.8 502.2 1705.7 502.8 1705.7 C503.4 1705.6 503.9 1705.4 504.5 1705.4 C505.1 1705.4 505.6 1706.3 506.2 1706.3 C506.8 1706.3 507.3 1706.1 507.9 1706.1 C508.5 1706.1 509.0 1706.3 509.6 1706.3 C510.1 1706.3 510.7 1706.1 511.3 1706.1 C511.8 1706.1 512.4 1706.3 513.0 1706.3 C513.5 1706.3 514.1 1706.3 514.7 1706.3 C515.2 1706.3 515.8 1706.7 516.4 1706.7 C516.9 1706.7 517.5 1706.1 518.0 1706.1 C518.6 1706.1 519.2 1706.6 519.7 1706.6 C520.3 1706.6 520.9 1706.3 521.4 1706.3 C522.0 1706.3 522.6 1706.8 523.1 1706.8 C523.7 1706.8 524.3 1706.2 524.8 1706.2 C525.4 1706.2 525.9 1706.4 526.5 1706.5 C527.1 1706.5 527.6 1706.5 528.2 1706.6 C528.8 1706.6 529.3 1706.9 529.9 1706.9 C530.5 1706.9 531.0 1706.4 531.6 1706.4 C532.2 1706.4 532.7 1706.8 533.3 1706.8 C533.8 1706.8 534.4 1706.6 535.0 1706.6 C535.5 1706.6 536.1 1706.7 536.7 1706.7 C537.2 1706.8 537.8 1706.8 538.4 1707.0 C538.9 1707.1 539.5 1707.4 540.0 1707.4 C540.6 1707.4 541.2 1707.0 541.7 1707.0 C542.3 1707.0 542.9 1707.5 543.4 1707.5 C544.0 1707.5 544.6 1706.8 545.1 1706.8 C545.7 1706.8 546.3 1707.6 546.8 1707.6 C547.4 1707.6 548.0 1707.1 548.5 1707.1 C549.1 1707.0 549.6 1707.0 550.2 1707.0 C550.8 1707.0 551.3 1707.4 551.9 1707.5 C552.5 1707.6 553.0 1707.7 553.6 1707.7 C554.2 1707.7 554.7 1706.9 555.3 1706.9 C555.9 1706.9 556.4 1707.1 557.0 1707.2 C557.5 1707.3 558.1 1707.7 558.7 1707.7 C559.2 1707.7 559.8 1707.4 560.4 1707.3 C560.9 1707.3 561.5 1707.3 562.1 1707.3 C562.6 1707.3 563.2 1707.1 563.8 1707.1 C564.3 1707.1 564.9 1707.1 565.4 1707.2 C566.0 1707.2 566.6 1707.6 567.1 1707.8 C567.7 1707.9 568.3 1708.1 568.8 1708.1 C569.4 1708.1 570.0 1708.1 570.5 1708.1 C571.1 1708.1 571.6 1707.8 572.2 1707.7 C572.8 1707.5 573.3 1707.2 573.9 1707.2 C574.5 1707.2 575.0 1707.4 575.6 1707.5 C576.2 1707.6 576.7 1707.9 577.3 1707.9 C577.9 1708.0 578.4 1708.0 579.0 1708.0 C579.6 1708.0 580.1 1707.9 580.7 1707.8 C581.2 1707.7 581.8 1707.4 582.4 1707.4 C582.9 1707.4 583.5 1707.7 584.1 1707.7 C584.6 1707.7 585.2 1707.7 585.8 1707.7 C586.3 1707.7 586.9 1707.8 587.5 1707.8 C588.0 1707.8 588.6 1707.5 589.1 1707.5 C589.7 1707.5 590.3 1708.1 590.8 1708.1 C591.4 1708.1 592.0 1708.1 592.5 1708.0 C593.1 1708.0 593.7 1707.4 594.2 1707.4 C594.8 1707.4 595.3 1707.4 595.9 1707.5 C596.5 1707.5 597.0 1708.0 597.6 1708.0 C598.2 1708.0 598.7 1707.5 599.3 1707.5 C599.9 1707.5 600.4 1708.1 601.0 1708.1 C601.6 1708.1 602.1 1707.7 602.7 1707.7 C603.2 1707.7 603.8 1707.8 604.4 1707.8 C604.9 1707.9 605.5 1707.9 606.1 1707.9 C606.6 1707.9 607.2 1707.4 607.8 1707.4 C608.3 1707.4 608.9 1707.5 609.5 1707.5 C610.0 1707.5 610.6 1707.5 611.1 1707.5 C611.7 1707.5 612.3 1707.8 612.8 1707.8 C613.4 1707.8 614.0 1707.8 614.5 1707.8 C615.1 1707.8 615.7 1707.3 616.2 1707.3 C616.8 1707.3 617.4 1708.0 617.9 1708.0 C618.5 1708.0 619.0 1707.7 619.6 1707.6 C620.2 1707.5 620.7 1707.4 621.3 1707.4 C621.9 1707.4 622.4 1707.5 623.0 1707.6 C623.6 1707.7 624.1 1708.1 624.7 1708.1 C625.3 1708.1 625.8 1707.7 626.4 1707.7 C626.9 1707.7 627.5 1707.8 628.1 1707.8 C628.6 1707.8 629.2 1708.0 629.8 1708.1 C630.3 1708.1 630.9 1708.1 631.5 1708.1 C632.0 1708.1 632.6 1708.0 633.1 1707.9 C633.7 1707.8 634.3 1707.6 634.9 1707.6 C635.4 1707.6 636.0 1707.7 636.5 1707.8 C637.1 1707.8 637.7 1708.0 638.2 1708.0 C638.8 1708.0 639.4 1708.0 639.9 1707.9 C640.5 1707.9 641.1 1707.8 641.6 1707.8 C642.2 1707.7 642.7 1707.5 643.3 1707.5 C643.9 1707.5 644.4 1707.5 645.0 1707.5 C645.6 1707.6 646.1 1707.9 646.7 1707.9 C647.3 1707.9 647.8 1707.8 648.4 1707.7 C649.0 1707.6 649.5 1707.2 650.1 1707.2 C650.6 1707.2 651.2 1707.8 651.8 1707.9 C652.3 1708.0 652.9 1708.0 653.5 1708.0 C653.9 1708.0 654.4 1708.0 654.9 1708.0 L656.2 1707.9 L657.6 1708.2 L659.0 1708.3 L660.4 1708.6 L661.4 1708.1 L662.4 1707.9 L663.4 1706.8 L664.5 1705.4 C665.1 1704.5 665.8 1702.3 666.5 1698.4 C667.0 1695.9 667.4 1688.4 667.9 1680.6 C668.2 1675.1 668.5 1658.3 668.9 1657.7 C669.4 1656.6 670.0 1656.2 670.6 1656.2 L671.5 1656.7 L672.5 1657.0 L673.4 1658.3 C674.1 1659.4 674.7 1669.5 675.4 1674.2 C676.1 1679.0 676.8 1684.3 677.5 1687.0 C678.2 1689.6 678.9 1691.6 679.5 1692.7 C680.5 1694.2 681.4 1695.9 682.3 1695.9 C683.0 1695.9 683.7 1692.4 684.3 1690.8 C685.3 1688.6 686.2 1684.4 687.1 1684.4 C687.8 1684.4 688.5 1691.4 689.1 1691.4 C690.0 1691.4 690.8 1678.1 691.6 1678.1 C692.2 1678.1 692.9 1684.3 693.5 1685.1 C694.1 1685.8 694.7 1685.6 695.3 1686.3 C696.0 1687.1 696.7 1692.5 697.4 1694.0 C698.5 1696.5 699.7 1699.1 700.8 1699.1 C701.5 1699.1 702.2 1698.4 702.9 1697.8 C703.5 1697.1 704.2 1693.3 704.9 1693.3 C705.8 1693.3 706.7 1695.9 707.6 1696.5 C708.1 1696.8 708.6 1696.8 709.0 1697.2 C709.7 1697.6 710.4 1700.8 711.1 1701.0 L712.5 1701.0 L713.8 1701.2 L714.9 1702.0 L715.9 1702.6 L716.9 1703.6 L717.9 1704.2 L719.3 1703.8 L720.7 1703.4 L722.0 1702.9 C723.1 1702.3 724.1 1698.4 725.1 1698.4 C726.1 1698.4 727.2 1703.5 728.2 1704.2 L729.5 1705.0 L730.7 1705.8 L731.9 1705.8 L733.2 1706.4 L734.4 1706.4 L735.3 1706.1 L736.2 1705.2 L737.1 1704.2 C737.6 1703.4 738.0 1697.8 738.5 1697.8 C739.2 1697.8 739.9 1698.4 740.6 1698.4 C741.2 1698.4 741.9 1690.2 742.6 1690.2 C743.3 1690.2 744.0 1698.1 744.7 1699.7 C745.8 1702.4 747.0 1704.0 748.1 1704.8 L749.5 1705.6 L750.8 1706.2 L752.2 1706.7 C752.9 1706.7 753.6 1705.3 754.3 1703.5 C755.0 1701.8 755.6 1688.9 756.3 1688.9 C757.0 1688.9 757.7 1699.2 758.4 1701.0 C759.3 1703.4 760.2 1705.4 761.1 1705.4 C762.0 1705.4 763.0 1704.0 763.9 1702.2 C764.8 1700.5 765.7 1687.2 766.6 1687.2 C767.3 1687.2 768.0 1688.4 768.7 1689.5 C769.6 1691.1 770.5 1698.4 771.4 1699.7 C771.9 1700.3 772.3 1701.0 772.8 1701.0 C773.6 1701.0 774.3 1683.8 775.1 1683.8 C775.9 1683.8 776.8 1696.1 777.6 1698.4 C778.5 1701.0 779.4 1703.5 780.3 1703.5 C781.0 1703.5 781.7 1702.2 782.4 1701.0 C783.1 1699.7 783.8 1693.3 784.5 1693.3 C785.3 1693.3 786.1 1696.8 786.9 1698.4 C787.8 1700.4 788.7 1703.5 789.6 1704.2 L790.8 1705.1 L791.9 1705.2 L793.0 1705.7 L794.4 1706.6 L795.8 1707.0 L797.2 1706.3 L798.5 1705.4 C799.0 1704.9 799.4 1700.4 799.9 1697.2 C800.4 1693.9 800.8 1685.1 801.3 1685.1 C802.0 1685.1 802.6 1693.4 803.3 1694.0 C804.0 1694.5 804.7 1694.9 805.4 1694.9 C806.0 1694.9 806.6 1678.7 807.2 1678.7 C807.8 1678.7 808.4 1680.0 809.1 1680.0 C809.7 1680.0 810.3 1662.2 810.9 1662.2 C811.3 1662.2 811.8 1665.4 812.2 1667.9 C812.9 1671.7 813.6 1682.1 814.3 1685.7 C815.0 1689.3 815.7 1691.8 816.4 1693.3 C817.7 1696.5 819.1 1698.7 820.5 1699.7 L821.8 1700.8 L823.2 1701.3 L824.6 1701.6 L826.0 1701.8 L827.3 1701.2 C828.0 1701.0 828.7 1698.6 829.4 1697.2 C830.0 1695.9 830.6 1693.1 831.2 1693.1 C831.8 1693.1 832.4 1697.1 833.1 1698.4 C833.9 1700.2 834.7 1701.9 835.5 1702.5 L836.7 1703.4 L837.8 1703.5 L839.0 1703.9 L839.9 1703.7 L840.8 1703.0 L841.7 1702.2 C842.4 1701.5 843.1 1697.9 843.8 1693.3 C844.4 1689.4 845.0 1669.8 845.6 1669.8 C846.0 1669.8 846.4 1671.4 846.8 1673.0 C847.4 1675.3 848.0 1686.7 848.6 1689.5 C849.3 1692.7 849.9 1694.6 850.6 1695.9 C851.5 1697.5 852.5 1699.2 853.4 1699.3 L854.6 1699.4 L855.8 1699.1 L857.0 1699.7 L858.2 1699.7 C858.8 1699.8 859.4 1701.2 860.0 1701.2 C860.5 1701.2 861.1 1699.7 861.6 1699.7 C862.1 1699.7 862.7 1702.7 863.2 1702.9 L864.3 1703.5 L865.4 1703.4 L866.5 1703.5 C866.6 1703.6 866.7 1703.7 866.8 1703.8 L866.8 1712.2 L902.5 1712.2" fill="none" stroke="#000" stroke-width="2.5" stroke-linejoin="round" stroke-linecap="round"/>
<path d="M62.45 1930.0 V1933.9" stroke="#000" stroke-width="1.3" fill="none"/><path d="M61.9 1933.9 C62.0 1933.9 62.1 1933.8 62.1 1933.8 L63.6 1933.3 L65.1 1933.4 L66.5 1933.3 L68.0 1933.6 L69.4 1933.6 L70.9 1933.5 L72.4 1933.2 L73.9 1933.9 L75.4 1933.8 L76.9 1933.4 L78.5 1933.8 L80.0 1933.3 L81.5 1933.5 L82.9 1933.8 L84.4 1933.7 L85.9 1933.9 L87.3 1934.2 L88.8 1934.4 L90.2 1934.2 L91.7 1934.2 L93.1 1934.3 L94.6 1934.7 L96.0 1934.6 L97.5 1934.4 L99.0 1934.4 L100.5 1934.1 L102.0 1934.2 L103.5 1933.7 L105.0 1933.7 L106.5 1934.0 L108.0 1933.5 L109.5 1933.2 L111.1 1933.4 L112.7 1933.3 L114.2 1932.8 L115.8 1932.4 L117.4 1932.2 L118.9 1932.3 L120.5 1932.4 L122.1 1931.9 L123.6 1931.6 L125.2 1932.0 L126.5 1932.1 L127.8 1932.5 L129.2 1933.2 L130.5 1933.8 L131.8 1934.1 L133.4 1934.4 L135.0 1934.1 L136.6 1934.0 L138.2 1934.1 L139.7 1934.3 L141.3 1934.4 L142.9 1933.7 L144.5 1934.3 L146.1 1933.7 L147.7 1934.1 L149.2 1933.7 L150.7 1933.9 L152.2 1933.1 L153.7 1932.7 L155.3 1932.1 L156.8 1932.0 L158.3 1931.4 L159.8 1930.9 L161.3 1930.5 L162.8 1930.4 L164.3 1930.0 L165.9 1929.3 L167.4 1928.7 L168.9 1928.0 C172.4 1926.3 175.9 1921.1 179.5 1917.4 C183.0 1913.7 186.5 1909.2 190.1 1905.5 C193.6 1901.7 197.1 1897.5 200.7 1894.9 L202.0 1893.7 L203.3 1893.2 L204.6 1892.1 L206.0 1891.5 L207.3 1890.3 L208.6 1889.7 L209.9 1889.1 L211.2 1888.8 L212.8 1888.6 L214.3 1888.1 L215.8 1887.3 L217.3 1887.1 L218.8 1886.7 L220.3 1886.4 L221.8 1886.4 L223.4 1886.7 L224.9 1886.9 L226.5 1886.7 L228.0 1886.7 L229.6 1887.6 L231.1 1887.7 L232.4 1888.2 L233.8 1889.0 L235.1 1889.6 L236.4 1890.6 L237.7 1891.3 L239.1 1892.7 L240.4 1893.6 C243.9 1896.2 247.4 1900.1 251.0 1903.6 C254.5 1907.1 258.0 1911.5 261.6 1914.8 L262.7 1915.7 L263.9 1916.8 L265.1 1917.9 L266.3 1918.9 L267.5 1919.7 L268.6 1920.9 L269.8 1921.5 L271.0 1922.5 L272.2 1923.2 L273.5 1924.3 L274.8 1924.6 L276.1 1925.6 L277.5 1926.2 L278.8 1927.1 L280.1 1927.7 L281.4 1927.9 L282.8 1928.5 L284.1 1928.6 L285.4 1928.9 L286.7 1929.4 L288.1 1929.8 C288.7 1930.1 289.4 1930.8 290.0 1930.8 L291.3 1930.8 L292.7 1930.9 L294.0 1931.5 L295.4 1931.5 L296.7 1931.6 L298.1 1931.5 L299.3 1931.3 L300.6 1931.1 L301.8 1930.7 L303.1 1930.0 C304.4 1929.4 305.8 1926.3 307.1 1923.4 C308.4 1920.5 309.8 1915.0 311.1 1911.3 C312.5 1907.7 313.8 1903.0 315.2 1901.3 C316.5 1899.5 317.8 1897.6 319.2 1897.6 L320.7 1898.0 L322.2 1898.6 L323.2 1899.2 L324.2 1899.7 L325.2 1899.8 C326.2 1899.8 327.2 1896.3 328.2 1894.2 C329.2 1892.1 330.3 1888.5 331.3 1887.2 C331.9 1886.3 332.6 1885.2 333.3 1885.2 C334.1 1885.2 335.0 1886.6 335.9 1888.2 C336.7 1889.6 337.5 1894.1 338.3 1897.2 C339.3 1901.1 340.3 1906.1 341.3 1909.3 C342.3 1912.5 343.3 1915.8 344.3 1917.4 C346.0 1920.0 347.7 1921.3 349.4 1922.8 L350.6 1923.8 L351.9 1924.7 L353.2 1925.7 L354.4 1926.4 L355.7 1927.2 L356.9 1928.4 L358.2 1929.2 L359.4 1929.4 L361.0 1929.5 L362.5 1929.5 L364.0 1930.0 L365.5 1929.6 L367.0 1929.8 L368.5 1930.0 L369.9 1930.0 L371.4 1930.5 L372.8 1931.0 L374.2 1931.6 L375.7 1932.1 L377.1 1932.6 L378.6 1932.9 L380.1 1933.5 L381.6 1933.3 L383.1 1933.9 L384.6 1933.7 L386.1 1934.5 L387.6 1934.3 L389.1 1934.9 L390.6 1934.9 L392.1 1935.2 L393.6 1935.0 L395.0 1935.5 L396.5 1935.7 L398.0 1935.6 L399.4 1935.4 L400.9 1935.3 L402.3 1935.8 L403.8 1935.6 L405.3 1935.8 L406.7 1935.9 L408.3 1936.3 L409.8 1935.7 L411.4 1935.8 L412.9 1935.8 L414.5 1935.7 L416.0 1935.9 L417.6 1936.3 L419.1 1936.0 L420.7 1935.8 L422.2 1936.0 L423.8 1935.8 L425.3 1936.1 L426.9 1936.1 L428.4 1936.0 L430.0 1936.3 L431.5 1936.1 L433.1 1936.4 L434.6 1936.5 L436.2 1936.9 L437.7 1936.7 L439.2 1936.8 L440.8 1937.0 L442.3 1937.4 L443.9 1937.5 L445.4 1937.2 L447.0 1937.5 L448.5 1937.4 L450.0 1937.9 L451.5 1938.1 L453.0 1938.4 L454.5 1938.8 L456.0 1939.3 L457.6 1939.0 L459.1 1939.1 L460.4 1938.5 L461.8 1938.1 L463.1 1937.5 L464.4 1937.2 L465.8 1937.2 L467.1 1937.8 L468.5 1938.1 L469.8 1938.0 L471.1 1937.9 L470.0 1938.3 L471.5 1938.6 L473.1 1938.5 L474.6 1938.2 L476.1 1938.1 L477.7 1938.1 L479.2 1938.5 L480.8 1938.4 L482.3 1938.5 L483.8 1938.7 L485.4 1938.6 L486.9 1938.6 L488.4 1939.0 L490.0 1938.8 L491.5 1938.8 L493.0 1939.1 L494.6 1938.7 L496.1 1938.9 L497.6 1939.1 L499.2 1939.0 L500.7 1939.0 L502.3 1938.8 L503.8 1939.2 L505.3 1938.9 L506.9 1939.4 L508.4 1939.1 L509.9 1938.8 L511.5 1939.3 L513.0 1939.1 L514.5 1939.0 L516.1 1939.3 L517.6 1939.6 L519.2 1939.4 L520.7 1939.8 L522.2 1939.9 L523.8 1939.8 L525.3 1939.9 L526.8 1939.6 L528.4 1939.5 L529.9 1939.5 L531.4 1939.9 L533.0 1939.9 L534.5 1939.3 L536.0 1939.4 L537.6 1939.7 L539.1 1938.9 L540.7 1938.4 L542.2 1938.3 L543.7 1938.5 L545.3 1937.9 L546.8 1937.4 L548.3 1937.4 L549.9 1937.3 L551.4 1937.4 L552.9 1937.4 L554.5 1938.2 L556.0 1938.7 L557.6 1938.9 L559.1 1939.3 L560.6 1939.4 L562.2 1939.8 L563.7 1939.6 L565.2 1940.1 L566.8 1939.9 L568.3 1939.8 L569.8 1940.0 L571.4 1940.5 L572.9 1940.5 L574.5 1940.1 L576.0 1940.7 L577.5 1940.1 L579.1 1940.7 L580.6 1940.7 L582.1 1940.3 L583.7 1940.5 L585.2 1940.3 L586.7 1940.4 L588.3 1940.1 L589.8 1940.2 L591.3 1939.7 L592.9 1939.5 L594.4 1939.4 L596.0 1938.6 L597.5 1938.4 L599.0 1938.2 L600.6 1938.1 L602.1 1938.3 L603.6 1938.4 L605.2 1938.1 L606.7 1938.3 L608.2 1938.6 L609.8 1938.3 L611.3 1938.8 L612.9 1939.1 L614.4 1939.1 L615.9 1939.0 L617.5 1938.9 L619.0 1939.5 L620.5 1939.6 L622.1 1939.5 L623.6 1939.3 L625.1 1939.2 L626.7 1939.0 L628.2 1939.5 L629.7 1939.0 L631.3 1938.9 L632.8 1939.2 L634.4 1939.4 L635.9 1938.7 L637.4 1938.7 L639.0 1938.8 L640.5 1939.0 L642.0 1939.0 L643.4 1938.6 L644.8 1939.3 L646.2 1939.1 L647.6 1939.3 C648.0 1939.3 648.4 1936.4 648.8 1936.2 L650.2 1935.8 L651.7 1935.5 L653.1 1935.5 L654.5 1934.9 L656.0 1935.2 L657.4 1934.7 L658.5 1934.2 L659.6 1933.7 L660.7 1932.7 L661.8 1931.6 L662.9 1930.7 C664.1 1929.2 665.4 1924.9 666.6 1921.4 C667.6 1918.6 668.7 1914.0 669.7 1911.6 C670.7 1909.3 671.7 1906.1 672.8 1906.1 C673.6 1906.1 674.4 1911.6 675.2 1911.6 L676.6 1911.3 L677.9 1910.6 L679.3 1910.1 L680.6 1909.2 L682.0 1909.2 L683.1 1909.6 L684.3 1910.3 L685.4 1911.5 L686.6 1912.2 L687.7 1912.8 L688.9 1913.8 L690.0 1914.6 L691.2 1914.7 C692.4 1914.7 693.6 1913.0 694.9 1910.7 C695.5 1909.5 696.1 1901.5 696.7 1901.5 C697.4 1901.5 698.2 1904.1 698.9 1906.1 C699.6 1908.1 700.3 1914.7 701.0 1914.7 L702.4 1914.1 L703.7 1914.3 L705.0 1913.8 C706.5 1913.8 708.1 1919.0 709.6 1919.0 L710.8 1918.8 L711.9 1917.9 L713.1 1917.1 L714.2 1916.2 L715.5 1915.8 L716.7 1915.4 L717.9 1914.9 L719.1 1914.3 L720.4 1913.8 L721.6 1913.1 L722.8 1912.1 L724.1 1911.7 L725.3 1910.7 L726.5 1910.7 C727.5 1910.7 728.6 1913.2 729.6 1915.3 C730.6 1917.3 731.6 1922.4 732.7 1924.5 C733.4 1926.1 734.2 1927.3 735.0 1928.2 C736.2 1929.6 737.5 1931.5 738.7 1931.5 L739.9 1931.3 L741.2 1930.5 L742.4 1929.1 C743.3 1928.1 744.3 1925.3 745.2 1920.8 C745.8 1917.7 746.4 1909.1 747.0 1900.4 C747.7 1891.6 748.3 1876.4 748.9 1863.3 C749.4 1852.8 749.9 1837.4 750.4 1829.9 C750.8 1823.5 751.2 1815.1 751.7 1815.1 C752.1 1815.1 752.4 1815.5 752.8 1816.0 C753.2 1816.7 753.7 1832.8 754.1 1841.1 C754.6 1851.7 755.2 1865.1 755.8 1872.6 C756.3 1879.3 756.8 1887.1 757.2 1888.3 C757.7 1889.4 758.1 1890.2 758.5 1890.2 C759.0 1890.2 759.5 1883.6 760.0 1878.1 C760.6 1871.3 761.3 1855.9 761.9 1844.8 C762.5 1833.6 763.1 1820.3 763.7 1811.4 C764.4 1802.5 765.0 1798.4 765.6 1789.2 C766.2 1779.9 766.8 1763.4 767.4 1752.1 C767.9 1744.1 768.3 1732.2 768.7 1729.8 C769.1 1727.8 769.5 1726.1 769.9 1726.1 C770.2 1726.1 770.6 1728.6 771.0 1731.7 C771.3 1734.8 771.7 1753.1 772.1 1761.3 C772.6 1772.3 773.1 1784.6 773.6 1789.2 C774.3 1796.0 775.0 1795.8 775.8 1802.1 C776.4 1807.4 777.0 1820.3 777.6 1829.9 C778.3 1839.5 778.9 1852.4 779.5 1859.6 C780.2 1868.3 781.0 1874.9 781.7 1880.0 C782.5 1885.5 783.3 1888.7 784.1 1893.0 C785.1 1897.9 786.0 1903.8 786.9 1907.8 C787.8 1911.8 788.8 1915.7 789.7 1918.0 C790.5 1920.0 791.3 1922.0 792.1 1922.6 C792.7 1923.1 793.3 1923.5 794.0 1923.5 C794.7 1923.5 795.4 1920.4 796.2 1917.1 C796.8 1914.3 797.4 1906.9 798.0 1900.4 C798.5 1895.2 799.0 1885.8 799.5 1881.8 C799.9 1878.4 800.4 1874.1 800.8 1874.1 C801.4 1874.1 802.0 1875.9 802.7 1875.9 C803.3 1875.9 803.9 1873.6 804.5 1870.7 C805.0 1868.4 805.5 1856.6 806.0 1852.2 C806.4 1848.3 806.9 1843.4 807.3 1842.9 C807.8 1842.3 808.3 1842.0 808.8 1842.0 C809.4 1842.0 810.0 1845.0 810.6 1847.5 C811.4 1850.6 812.1 1858.6 812.9 1863.3 C813.6 1868.1 814.3 1871.0 815.1 1876.3 C815.7 1880.7 816.3 1887.9 816.9 1893.0 C817.6 1898.0 818.2 1904.7 818.8 1906.9 C819.5 1909.3 820.1 1911.5 820.8 1911.5 C821.4 1911.5 821.9 1909.5 822.5 1907.8 C823.1 1905.9 823.7 1900.0 824.4 1898.5 C825.2 1896.6 826.0 1894.8 826.8 1894.8 C827.4 1894.8 828.0 1895.5 828.6 1896.3 C829.4 1897.3 830.2 1901.2 831.0 1903.2 C831.8 1904.9 832.5 1907.8 833.2 1907.8 L834.4 1907.4 L835.5 1907.8 L836.6 1907.8 C837.6 1907.8 838.7 1905.6 839.7 1904.5 C841.0 1903.1 842.2 1902.0 843.5 1900.4 C844.4 1899.1 845.3 1897.1 846.2 1895.8 C847.8 1893.6 849.3 1892.7 850.9 1890.2 C851.8 1888.7 852.7 1885.5 853.6 1883.7 C854.6 1881.9 855.5 1880.6 856.4 1879.1 C857.4 1877.5 858.3 1875.9 859.2 1874.4 C859.8 1873.5 860.4 1871.7 861.1 1871.7 C861.8 1871.7 862.5 1872.4 863.3 1872.9 C863.9 1873.4 864.5 1874.4 865.1 1874.4 C865.4 1874.4 865.6 1865.2 865.9 1865.2 C866.0 1865.2 866.1 1873.8 866.2 1878.1 L866.2 1930.0 L902.4 1930.0" fill="none" stroke="#000" stroke-width="2.5" stroke-linejoin="round" stroke-linecap="round"/>
<path d="M62.45 2074.5 V2086.0" stroke="#000" stroke-width="1.3" fill="none"/><path d="M61.9 2086.0 C62.0 2086.0 62.1 2085.9 62.1 2085.9 L63.6 2085.8 L65.1 2085.6 L66.5 2085.3 L68.0 2086.0 L69.4 2085.4 L70.9 2085.6 L72.4 2085.8 L73.9 2085.1 L75.4 2085.8 L76.9 2085.0 L78.5 2085.4 L80.0 2085.1 L81.5 2085.3 L82.9 2085.3 L84.4 2085.0 L85.9 2085.2 L87.3 2085.7 L88.8 2086.5 L90.2 2086.3 L91.7 2086.1 L93.1 2086.4 L94.6 2086.2 L96.0 2086.7 L96.9 2086.2 L97.8 2085.6 L98.7 2084.8 L100.3 2084.5 L101.8 2084.5 L103.4 2084.4 L105.0 2085.7 L106.5 2084.8 L108.1 2084.9 L109.7 2085.6 L111.2 2085.3 L112.8 2085.9 L114.3 2086.4 L115.9 2085.9 L117.4 2085.8 L118.9 2086.0 L120.4 2085.6 L122.0 2084.5 L123.5 2083.9 L125.0 2084.3 L126.5 2084.0 L128.0 2084.1 L129.6 2083.5 L131.1 2084.4 L132.7 2083.5 L134.2 2084.6 L135.8 2084.5 L137.3 2084.4 L138.9 2083.9 L140.4 2084.7 L141.9 2084.6 L143.5 2084.2 L145.0 2084.3 L146.6 2084.2 L148.1 2083.8 L149.6 2084.0 L151.1 2083.1 L152.6 2083.4 L154.1 2082.0 L155.6 2082.2 L157.2 2082.2 L158.7 2081.8 L160.2 2081.2 L161.7 2080.5 L163.2 2080.8 L164.7 2079.5 L166.2 2079.5 L167.7 2079.4 L169.3 2078.5 L170.8 2078.3 L172.3 2077.5 L173.8 2077.1 L175.3 2076.7 L176.8 2076.1 L178.1 2075.5 L179.5 2074.9 L180.8 2075.1 L182.1 2073.9 L183.4 2074.1 L184.8 2073.0 L186.1 2072.3 L187.4 2072.1 L188.7 2071.5 L190.1 2070.6 L191.4 2070.3 L192.7 2070.0 L194.0 2069.6 L195.4 2068.2 L196.7 2068.0 L198.0 2067.3 L199.3 2066.4 L200.7 2066.2 L202.0 2065.2 L203.3 2064.6 L204.6 2063.7 L206.0 2062.5 L207.3 2062.0 L208.6 2061.5 L209.9 2060.9 L211.3 2059.8 L212.6 2060.0 L213.9 2059.1 L215.2 2058.8 L216.6 2058.1 L217.9 2058.3 L219.2 2056.9 L220.5 2056.7 L221.8 2057.0 L223.2 2057.3 L224.5 2056.7 L225.8 2056.5 L227.1 2056.5 L228.5 2057.1 L229.8 2057.1 L231.1 2057.5 L232.4 2058.0 L233.8 2058.3 L235.1 2058.8 L236.4 2059.6 L237.7 2060.3 L239.1 2060.9 L240.4 2062.0 L241.6 2062.5 L242.7 2063.2 L243.9 2064.0 L245.1 2065.5 L246.3 2066.0 L247.4 2067.1 L248.6 2067.4 L249.8 2068.3 L251.0 2069.4 L252.1 2070.3 L253.3 2071.4 L254.5 2072.3 L255.7 2072.9 L256.9 2073.5 L258.0 2074.6 L259.2 2075.4 L260.4 2075.9 L261.6 2076.9 L262.9 2077.3 L264.2 2078.6 L265.5 2078.9 L266.9 2079.4 L268.2 2080.0 L269.5 2080.6 L270.8 2081.3 L272.2 2081.4 L273.5 2081.2 L274.8 2081.6 L276.1 2081.7 L277.5 2082.0 L278.8 2083.2 L280.1 2083.0 L280.0 2083.4 L281.4 2083.5 L282.8 2083.6 L284.1 2083.7 L285.5 2083.9 L286.9 2084.1 L288.3 2084.3 L289.6 2084.6 L291.0 2084.2 L292.4 2084.1 L293.6 2084.3 L294.8 2083.9 L296.0 2083.4 L297.2 2082.3 C298.4 2081.6 299.5 2080.3 300.7 2078.8 C301.8 2077.3 303.0 2075.3 304.1 2072.6 C304.9 2070.8 305.7 2068.5 306.4 2065.1 C307.0 2062.4 307.6 2057.5 308.2 2053.3 C308.7 2050.1 309.2 2045.2 309.6 2043.0 C310.1 2040.8 310.5 2038.2 311.0 2038.2 C311.4 2038.2 311.9 2038.5 312.4 2038.9 C312.8 2039.3 313.3 2043.3 313.7 2043.7 C314.2 2044.1 314.7 2044.4 315.1 2044.4 C315.7 2044.4 316.3 2043.0 316.9 2043.0 C317.5 2043.0 318.0 2044.2 318.6 2045.1 C319.2 2046.2 319.9 2048.5 320.6 2049.9 C321.5 2051.8 322.5 2053.5 323.4 2054.7 C324.3 2055.9 325.2 2056.8 326.1 2057.5 C326.7 2057.9 327.3 2058.6 327.9 2058.6 C328.5 2058.6 329.0 2056.6 329.6 2054.7 C330.0 2053.2 330.5 2048.8 330.9 2046.5 C331.3 2044.6 331.7 2041.6 332.1 2041.6 C332.5 2041.6 333.0 2041.8 333.4 2042.1 C333.9 2042.3 334.4 2045.6 334.8 2047.8 C335.4 2050.5 335.9 2054.6 336.5 2057.5 C337.1 2061.1 337.8 2064.8 338.5 2067.1 C339.4 2070.1 340.4 2072.5 341.3 2074.0 C342.7 2076.2 344.0 2077.8 345.4 2078.8 L346.7 2079.5 L347.9 2080.2 L349.1 2081.3 L350.4 2081.9 L351.6 2082.0 L353.0 2082.9 L354.4 2082.5 L355.7 2082.6 L357.1 2083.4 L358.5 2083.3 L359.9 2083.6 L361.4 2084.0 L362.9 2084.1 L364.5 2084.1 L366.0 2084.8 L367.5 2084.1 L369.1 2084.8 L370.6 2084.2 L372.1 2084.5 L373.6 2084.8 L375.1 2084.4 L376.6 2084.8 L378.1 2084.8 L379.7 2085.4 L381.2 2085.4 L382.7 2085.8 L384.2 2085.3 L385.7 2086.1 L387.2 2086.1 L388.7 2086.2 L390.2 2085.7 L391.7 2085.2 L393.2 2085.6 L394.8 2085.8 L396.3 2086.0 L397.8 2085.5 L399.3 2086.0 L400.9 2086.4 L402.4 2086.1 L403.9 2086.3 C404.6 2086.3 405.3 2086.2 406.0 2086.2 C406.6 2086.2 407.1 2087.1 407.7 2087.1 C408.3 2087.1 408.8 2086.4 409.4 2086.4 C410.0 2086.4 410.5 2086.7 411.1 2086.8 C411.7 2086.9 412.2 2087.0 412.8 2087.1 C413.4 2087.2 413.9 2087.3 414.5 2087.3 C415.1 2087.3 415.6 2086.9 416.2 2086.9 C416.8 2086.9 417.3 2087.0 417.9 2087.0 C418.5 2087.0 419.0 2086.4 419.6 2086.4 C420.2 2086.4 420.7 2086.9 421.3 2086.9 C421.9 2086.9 422.4 2086.9 423.0 2086.9 C423.6 2086.9 424.1 2087.5 424.7 2087.5 C425.3 2087.5 425.8 2087.2 426.4 2087.2 C427.0 2087.2 427.5 2087.4 428.1 2087.4 C428.7 2087.4 429.2 2087.2 429.8 2087.1 C430.4 2086.9 430.9 2086.7 431.5 2086.7 C432.1 2086.7 432.6 2087.6 433.2 2087.6 C433.8 2087.6 434.3 2087.6 434.9 2087.6 C435.5 2087.6 436.0 2087.2 436.6 2087.1 C437.2 2086.9 437.7 2086.7 438.3 2086.7 C438.9 2086.7 439.4 2087.3 440.0 2087.3 C440.6 2087.3 441.1 2087.3 441.7 2087.3 C442.3 2087.3 442.8 2087.7 443.4 2087.7 C444.0 2087.7 444.5 2087.5 445.1 2087.5 C445.7 2087.4 446.2 2087.4 446.8 2087.4 C447.4 2087.4 447.9 2087.5 448.5 2087.5 C449.1 2087.5 449.6 2087.4 450.2 2087.3 C450.8 2087.2 451.3 2086.9 451.9 2086.9 C452.5 2086.9 453.0 2086.9 453.6 2086.9 C454.2 2086.9 454.7 2088.1 455.3 2088.1 C455.9 2088.1 456.4 2088.0 457.0 2088.0 C457.6 2087.9 458.1 2087.3 458.7 2087.3 C459.3 2087.3 459.8 2088.1 460.4 2088.1 C461.0 2088.1 461.5 2087.8 462.1 2087.6 C462.7 2087.4 463.2 2087.1 463.8 2087.1 C464.4 2087.1 464.9 2088.1 465.5 2088.1 C466.1 2088.1 466.6 2087.8 467.2 2087.8 C467.8 2087.8 468.3 2088.2 468.9 2088.2 C469.5 2088.2 470.0 2088.1 470.6 2087.9 C471.2 2087.8 471.7 2087.2 472.3 2087.2 C472.9 2087.2 473.4 2087.8 474.0 2087.9 C474.6 2088.0 475.1 2088.1 475.7 2088.1 C476.3 2088.2 476.8 2088.3 477.4 2088.3 C478.0 2088.3 478.5 2087.6 479.1 2087.6 C479.7 2087.6 480.2 2087.8 480.8 2087.9 C481.4 2087.9 481.9 2088.1 482.5 2088.1 C483.1 2088.1 483.6 2087.4 484.2 2087.4 C484.8 2087.4 485.3 2088.3 485.9 2088.3 C486.5 2088.3 487.0 2088.3 487.6 2088.3 C488.2 2088.2 488.7 2087.3 489.3 2087.3 C489.9 2087.3 490.4 2088.1 491.0 2088.1 C491.6 2088.1 492.1 2087.9 492.7 2087.8 C493.3 2087.7 493.8 2087.6 494.4 2087.6 C495.0 2087.6 495.5 2088.0 496.1 2088.2 C496.7 2088.3 497.2 2088.6 497.8 2088.6 C498.4 2088.6 498.9 2088.3 499.5 2088.1 C500.1 2087.9 500.6 2087.6 501.2 2087.6 C501.8 2087.6 502.3 2087.9 502.9 2088.1 C503.5 2088.2 504.0 2088.4 504.6 2088.5 C505.2 2088.6 505.7 2088.7 506.3 2088.7 C506.9 2088.7 507.4 2088.6 508.0 2088.4 C508.6 2088.3 509.1 2087.6 509.7 2087.6 C510.3 2087.6 510.8 2088.8 511.4 2088.8 C512.0 2088.8 512.5 2088.5 513.1 2088.4 C513.7 2088.2 514.2 2087.7 514.8 2087.7 C515.4 2087.7 515.9 2087.8 516.5 2087.8 C517.1 2087.8 517.6 2087.8 518.2 2087.8 C518.8 2087.8 519.3 2088.5 519.9 2088.5 C520.5 2088.5 521.0 2087.9 521.6 2087.9 C522.2 2087.9 522.7 2088.8 523.3 2088.8 C523.9 2088.8 524.4 2087.9 525.0 2087.9 C525.6 2087.9 526.1 2088.4 526.7 2088.4 C527.3 2088.4 527.8 2088.4 528.4 2088.3 C529.0 2088.3 529.5 2087.9 530.1 2087.8 C530.7 2087.8 531.2 2087.8 531.8 2087.8 C532.4 2087.8 532.9 2088.9 533.5 2089.0 C534.1 2089.1 534.6 2089.1 535.2 2089.1 C535.8 2089.1 536.3 2088.0 536.9 2088.0 C537.5 2088.0 538.0 2088.7 538.6 2088.8 C539.2 2089.0 539.7 2089.2 540.3 2089.2 C540.9 2089.2 541.4 2089.1 542.0 2089.1 C542.6 2089.1 543.1 2089.1 543.7 2089.1 C544.3 2089.1 544.8 2088.4 545.4 2088.4 C546.0 2088.4 546.5 2088.9 547.1 2088.9 C547.7 2088.9 548.2 2088.7 548.8 2088.7 C549.4 2088.7 549.9 2089.3 550.5 2089.3 C551.1 2089.3 551.6 2089.0 552.2 2089.0 C552.8 2089.0 553.3 2089.2 553.9 2089.2 C554.5 2089.2 555.0 2089.2 555.6 2089.2 C556.2 2089.2 556.7 2088.6 557.3 2088.6 C557.9 2088.6 558.4 2089.1 559.0 2089.1 C559.6 2089.1 560.1 2088.3 560.7 2088.3 C561.3 2088.3 561.8 2088.4 562.4 2088.5 C563.0 2088.6 563.5 2089.4 564.1 2089.4 C564.7 2089.4 565.2 2088.8 565.8 2088.8 C566.4 2088.8 566.9 2089.2 567.5 2089.2 C568.1 2089.2 568.6 2089.1 569.2 2089.0 C569.8 2089.0 570.3 2088.6 570.9 2088.6 C571.5 2088.6 572.0 2088.9 572.6 2089.1 C573.2 2089.2 573.7 2089.5 574.3 2089.5 C574.9 2089.5 575.4 2088.8 576.0 2088.7 C576.6 2088.7 577.1 2088.7 577.7 2088.7 C578.3 2088.7 578.8 2088.5 579.4 2088.4 C580.0 2088.4 580.5 2088.4 581.1 2088.4 C581.7 2088.4 582.2 2089.2 582.8 2089.2 C583.4 2089.2 583.9 2089.0 584.5 2089.0 C585.1 2089.0 585.6 2089.2 586.2 2089.2 C586.8 2089.2 587.3 2088.8 587.9 2088.8 C588.5 2088.8 589.0 2089.1 589.6 2089.1 C590.2 2089.1 590.7 2088.2 591.3 2088.1 C591.9 2088.1 592.4 2088.0 593.0 2088.0 C593.6 2088.0 594.1 2088.0 594.7 2088.0 C595.5 2088.0 596.3 2088.3 597.0 2088.3 L598.0 2087.8 L598.9 2087.0 L599.9 2086.0 L600.9 2085.2 L602.2 2085.0 L603.6 2084.8 L605.0 2084.5 L606.2 2084.9 L607.4 2085.0 L608.6 2086.0 L609.8 2086.1 L611.3 2086.3 L612.9 2085.8 L614.5 2086.0 L616.1 2085.8 L617.3 2085.0 L618.5 2084.9 L619.7 2083.8 L620.9 2082.9 L622.1 2082.2 L623.3 2081.2 L624.4 2080.9 L625.6 2080.4 L626.9 2080.9 L628.2 2080.3 L629.5 2081.3 L630.7 2080.5 L632.0 2081.3 L633.2 2081.9 L634.4 2082.9 L635.6 2084.1 L636.8 2085.2 L637.8 2085.4 L638.9 2086.2 L640.0 2086.8 L641.5 2086.9 L643.0 2087.7 L644.5 2087.5 L645.9 2088.1 L647.4 2088.7 C648.4 2088.7 649.4 2085.9 650.4 2085.7 L651.9 2085.4 L653.3 2085.4 L654.8 2085.3 L656.3 2084.7 L657.8 2084.8 L659.3 2085.3 C660.2 2085.3 661.1 2083.3 662.0 2080.8 C662.5 2079.2 663.1 2071.9 663.7 2068.2 C664.2 2065.2 664.7 2060.5 665.2 2060.1 C665.8 2059.6 666.4 2059.8 667.0 2059.3 C667.5 2058.9 668.0 2052.4 668.5 2051.2 C669.1 2049.6 669.8 2048.2 670.4 2048.2 C671.0 2048.2 671.6 2049.7 672.2 2051.2 C672.8 2052.8 673.5 2057.9 674.1 2060.8 C674.9 2064.1 675.6 2067.7 676.3 2069.7 C677.1 2071.7 677.8 2074.2 678.6 2074.2 L679.8 2074.5 L681.0 2073.9 L682.3 2073.4 L683.8 2072.6 L685.2 2072.7 C686.0 2072.3 686.7 2071.2 687.5 2069.7 C688.1 2068.5 688.6 2064.1 689.2 2062.3 C689.7 2060.8 690.2 2058.6 690.7 2058.6 C691.1 2058.6 691.5 2061.1 691.9 2063.0 C692.3 2064.9 692.7 2071.2 693.1 2071.2 C693.9 2071.2 694.8 2071.0 695.6 2070.9 C696.4 2070.8 697.1 2070.0 697.8 2070.0 C698.4 2070.0 699.0 2071.8 699.6 2072.7 C700.3 2073.6 700.9 2075.6 701.5 2075.6 L702.8 2075.3 L704.0 2074.2 L705.2 2073.9 C706.5 2073.9 707.7 2077.9 709.0 2077.9 L710.2 2077.9 L711.4 2076.8 L712.7 2076.4 L714.0 2077.0 L715.3 2076.7 L716.6 2078.1 L717.9 2077.9 L719.2 2077.7 L720.5 2076.3 L721.8 2075.7 L723.0 2074.9 L724.5 2074.3 L726.0 2074.7 L727.5 2074.9 C728.7 2074.9 730.0 2077.5 731.2 2078.6 L732.3 2079.5 L733.4 2080.7 L734.5 2081.4 L735.7 2081.9 C736.6 2081.9 737.6 2079.5 738.6 2078.6 L739.9 2077.7 L741.1 2076.8 L742.3 2075.9 C743.3 2075.0 744.3 2074.0 745.3 2071.9 C746.0 2070.4 746.8 2066.9 747.5 2062.3 C748.0 2059.2 748.5 2052.5 749.0 2047.5 C749.5 2042.4 750.0 2034.2 750.5 2031.9 C751.0 2029.6 751.5 2027.4 752.0 2027.4 C752.5 2027.4 753.0 2029.8 753.5 2031.9 C754.1 2034.6 754.7 2041.6 755.4 2046.0 C756.0 2050.0 756.6 2055.0 757.2 2057.1 C757.6 2058.5 758.0 2060.1 758.4 2060.1 C758.9 2060.1 759.5 2053.7 760.0 2050.1 C760.8 2045.0 761.6 2038.1 762.4 2033.4 C763.2 2029.1 763.9 2027.1 764.7 2022.3 C765.3 2018.3 765.9 2009.2 766.5 2005.6 C767.0 2002.7 767.5 1999.1 768.0 1999.1 C768.4 1999.1 768.9 2000.3 769.3 2001.9 C769.7 2003.5 770.2 2013.9 770.6 2018.6 C771.1 2024.0 771.6 2031.7 772.1 2032.5 C772.8 2033.7 773.6 2033.2 774.3 2034.3 C774.9 2035.3 775.5 2042.7 776.1 2046.4 C777.0 2051.2 777.8 2056.7 778.6 2059.4 C779.5 2062.4 780.4 2064.1 781.4 2065.9 C782.6 2068.1 783.8 2069.6 785.0 2071.4 C786.3 2073.3 787.5 2076.5 788.8 2077.0 L790.0 2077.2 L791.2 2077.5 L792.5 2077.9 C793.2 2078.2 794.0 2079.8 794.7 2079.8 C795.5 2079.8 796.3 2078.1 797.1 2076.1 C797.7 2074.5 798.3 2065.6 799.0 2064.9 L800.3 2064.5 L801.7 2063.4 C802.7 2062.7 803.6 2061.7 804.5 2059.4 C805.1 2057.8 805.8 2050.4 806.4 2046.4 C807.0 2042.4 807.6 2037.1 808.2 2035.3 C808.8 2033.4 809.5 2031.6 810.1 2031.6 C810.7 2031.6 811.3 2035.8 811.9 2039.0 C812.5 2042.1 813.2 2048.2 813.8 2052.0 C814.6 2056.9 815.4 2061.5 816.2 2064.9 C817.1 2068.7 817.9 2073.1 818.8 2074.2 C819.6 2075.2 820.4 2076.1 821.2 2076.1 C822.4 2076.1 823.7 2073.9 824.9 2072.3 C825.8 2071.2 826.8 2069.1 827.7 2067.7 C828.3 2066.8 828.9 2065.3 829.5 2065.3 C830.3 2065.3 831.0 2067.7 831.8 2068.6 C832.9 2070.1 834.0 2072.3 835.1 2072.3 L836.2 2072.3 L837.3 2071.9 L838.4 2071.4 C839.2 2071.0 839.9 2067.9 840.7 2064.9 C841.3 2062.5 841.9 2056.5 842.5 2053.8 C843.1 2051.1 843.8 2047.3 844.4 2047.3 C844.9 2047.3 845.4 2049.4 845.9 2051.0 C846.5 2053.1 847.1 2059.5 847.7 2061.2 C848.5 2063.3 849.2 2065.3 849.9 2065.3 L851.3 2064.5 L852.7 2064.0 L854.0 2063.5 L855.2 2062.3 L856.4 2061.2 C857.5 2060.3 858.5 2059.3 859.6 2057.9 C860.2 2057.1 860.8 2054.7 861.4 2054.7 C862.0 2054.7 862.7 2056.0 863.3 2056.0 L864.6 2055.0 L865.9 2054.7 C866.0 2054.7 866.1 2055.0 866.2 2055.1 L866.2 2076.1 L902.4 2076.1" fill="none" stroke="#000" stroke-width="2.5" stroke-linejoin="round" stroke-linecap="round"/>
<ellipse cx="217.2" cy="2074.7" rx="73.85" ry="29.55" fill="none" stroke="#00b050" stroke-width="3"/>
<ellipse cx="324.8" cy="2052.9" rx="20.9" ry="34.05" fill="none" stroke="#c00000" stroke-width="3"/>
<ellipse cx="677.4" cy="2070.3" rx="23.65" ry="42.05" fill="none" stroke="#00b050" stroke-width="3"/>
<ellipse cx="764.3" cy="2044.25" rx="22.55" ry="64.0" fill="none" stroke="#00b050" stroke-width="3"/>
<ellipse cx="811.2" cy="2062.4" rx="11.65" ry="33.95" fill="none" stroke="#00b050" stroke-width="3"/>
<ellipse cx="845" cy="2069.6" rx="9.35" ry="31.85" fill="none" stroke="#c00000" stroke-width="3"/>
</g>
<path d="M3.5 768v3.4M941.5 768v3.4M3.5 1506v3.4M941.5 1506v3.4" stroke="#b4b4b4" stroke-width="1" fill="none"/>
</svg></body></html>
